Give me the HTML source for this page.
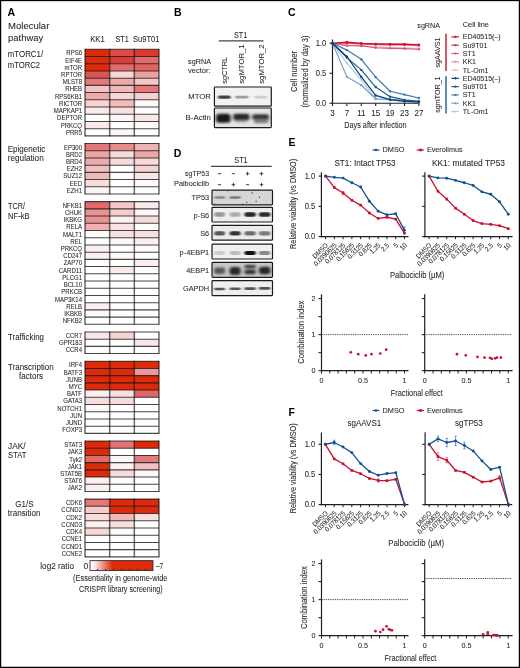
<!DOCTYPE html>
<html><head><meta charset="utf-8"><title>Figure</title>
<style>
html,body{margin:0;padding:0;background:#fff;}
body{width:520px;height:668px;overflow:hidden;}
svg{display:block;font-family:"Liberation Sans", sans-serif;}
text{stroke:#231f20;stroke-width:0.06px;}
text[font-weight=bold]{stroke:none;}
</style></head>
<body>
<svg width="520" height="668" viewBox="0 0 520 668" fill="#231f20">
<defs><filter id="b1" x="-50%" y="-100%" width="200%" height="300%"><feGaussianBlur stdDeviation="1.0 0.7"/></filter><filter id="b2" x="-50%" y="-100%" width="200%" height="300%"><feGaussianBlur stdDeviation="1.4 1.2"/></filter><filter id="b3" x="-20%" y="-20%" width="140%" height="140%"><feGaussianBlur stdDeviation="0.6"/></filter></defs>
<text x="7.60" y="15.70" font-size="10.5" font-weight="bold" fill="#000">A</text>
<text x="8.10" y="29.40" font-size="9.0" textLength="41.20" lengthAdjust="spacingAndGlyphs">Molecular</text>
<text x="8.10" y="41.20" font-size="9.0" textLength="35.00" lengthAdjust="spacingAndGlyphs">pathway</text>
<text x="90.20" y="41.80" font-size="8.9" textLength="14.60" lengthAdjust="spacingAndGlyphs">KK1</text>
<text x="115.40" y="41.80" font-size="8.9" textLength="13.40" lengthAdjust="spacingAndGlyphs">ST1</text>
<text x="133.00" y="41.80" font-size="8.9" textLength="26.40" lengthAdjust="spacingAndGlyphs">Su9T01</text>
<rect x="85.00" y="49.29" width="24.67" height="7.22" fill="#dc2a0a"/>
<rect x="109.67" y="49.29" width="24.66" height="7.22" fill="#de4a46"/>
<rect x="134.33" y="49.29" width="24.67" height="7.22" fill="#dc3830"/>
<text x="82.00" y="55.39" font-size="6.5" text-anchor="end" textLength="15.67" lengthAdjust="spacingAndGlyphs">RPS6</text>
<rect x="85.00" y="56.51" width="24.67" height="7.22" fill="#dc2a0a"/>
<rect x="109.67" y="56.51" width="24.66" height="7.22" fill="#dc3c34"/>
<rect x="134.33" y="56.51" width="24.67" height="7.22" fill="#e26a6a"/>
<text x="82.00" y="62.61" font-size="6.5" text-anchor="end" textLength="16.67" lengthAdjust="spacingAndGlyphs">EIF4E</text>
<rect x="85.00" y="63.72" width="24.67" height="7.22" fill="#dc2a0a"/>
<rect x="109.67" y="63.72" width="24.66" height="7.22" fill="#e26a6a"/>
<rect x="134.33" y="63.72" width="24.67" height="7.22" fill="#e06464"/>
<text x="82.00" y="69.82" font-size="6.5" text-anchor="end" textLength="17.56" lengthAdjust="spacingAndGlyphs">mTOR</text>
<rect x="85.00" y="70.94" width="24.67" height="7.22" fill="#de5454"/>
<rect x="109.67" y="70.94" width="24.66" height="7.22" fill="#f8d4d4"/>
<rect x="134.33" y="70.94" width="24.67" height="7.22" fill="#eca0a0"/>
<text x="82.00" y="77.04" font-size="6.5" text-anchor="end" textLength="20.89" lengthAdjust="spacingAndGlyphs">RPTOR</text>
<rect x="85.00" y="78.15" width="24.67" height="7.22" fill="#e47a7a"/>
<rect x="109.67" y="78.15" width="24.66" height="7.22" fill="#eeaaaa"/>
<rect x="134.33" y="78.15" width="24.67" height="7.22" fill="#f4c8c8"/>
<text x="82.00" y="84.25" font-size="6.5" text-anchor="end" textLength="19.34" lengthAdjust="spacingAndGlyphs">MLST8</text>
<rect x="85.00" y="85.37" width="24.67" height="7.22" fill="#f4c4c4"/>
<rect x="109.67" y="85.37" width="24.66" height="7.22" fill="#f0b8b8"/>
<rect x="134.33" y="85.37" width="24.67" height="7.22" fill="#e47878"/>
<text x="82.00" y="91.47" font-size="6.5" text-anchor="end" textLength="16.67" lengthAdjust="spacingAndGlyphs">RHEB</text>
<rect x="85.00" y="92.59" width="24.67" height="7.22" fill="#eeaaaa"/>
<rect x="109.67" y="92.59" width="24.66" height="7.22" fill="#f6d6d6"/>
<rect x="134.33" y="92.59" width="24.67" height="7.22" fill="#f5d0d0"/>
<text x="82.00" y="98.69" font-size="6.5" text-anchor="end" textLength="27.02" lengthAdjust="spacingAndGlyphs">RPS6KB1</text>
<rect x="85.00" y="99.80" width="24.67" height="7.22" fill="#f6d4d4"/>
<rect x="109.67" y="99.80" width="24.66" height="7.22" fill="#f0bcbc"/>
<rect x="134.33" y="99.80" width="24.67" height="7.22" fill="#fdf8f8"/>
<text x="82.00" y="105.90" font-size="6.5" text-anchor="end" textLength="22.89" lengthAdjust="spacingAndGlyphs">RICTOR</text>
<rect x="85.00" y="107.02" width="24.67" height="7.22" fill="#fbeaea"/>
<rect x="109.67" y="107.02" width="24.66" height="7.22" fill="#f8e0e0"/>
<text x="82.00" y="113.12" font-size="6.5" text-anchor="end" textLength="28.35" lengthAdjust="spacingAndGlyphs">MAPKAP1</text>
<rect x="109.67" y="114.23" width="24.66" height="7.22" fill="#fdf6f6"/>
<rect x="134.33" y="114.23" width="24.67" height="7.22" fill="#fae8e8"/>
<text x="82.00" y="120.33" font-size="6.5" text-anchor="end" textLength="24.89" lengthAdjust="spacingAndGlyphs">DEPTOR</text>
<rect x="85.00" y="121.45" width="24.67" height="7.22" fill="#fbeaea"/>
<rect x="134.33" y="121.45" width="24.67" height="7.22" fill="#fefafa"/>
<text x="82.00" y="127.55" font-size="6.5" text-anchor="end" textLength="21.34" lengthAdjust="spacingAndGlyphs">PRKCQ</text>
<rect x="109.67" y="128.67" width="24.66" height="7.22" fill="#fdf4f4"/>
<text x="82.00" y="134.77" font-size="6.5" text-anchor="end" textLength="16.01" lengthAdjust="spacingAndGlyphs">PRR5</text>
<rect x="85.00" y="143.50" width="24.67" height="7.22" fill="#e47878"/>
<rect x="109.67" y="143.50" width="24.66" height="7.22" fill="#e68c8c"/>
<rect x="134.33" y="143.50" width="24.67" height="7.22" fill="#f0b4b4"/>
<text x="82.00" y="149.60" font-size="6.5" text-anchor="end" textLength="18.02" lengthAdjust="spacingAndGlyphs">EP300</text>
<rect x="85.00" y="150.72" width="24.67" height="7.22" fill="#eca4a4"/>
<rect x="109.67" y="150.72" width="24.66" height="7.22" fill="#f8dcdc"/>
<rect x="134.33" y="150.72" width="24.67" height="7.22" fill="#eca8a8"/>
<text x="82.00" y="156.82" font-size="6.5" text-anchor="end" textLength="16.01" lengthAdjust="spacingAndGlyphs">BRD2</text>
<rect x="85.00" y="157.94" width="24.67" height="7.22" fill="#eeacac"/>
<rect x="109.67" y="157.94" width="24.66" height="7.22" fill="#f8dcdc"/>
<rect x="134.33" y="157.94" width="24.67" height="7.22" fill="#f8dada"/>
<text x="82.00" y="164.04" font-size="6.5" text-anchor="end" textLength="16.01" lengthAdjust="spacingAndGlyphs">BRD4</text>
<rect x="85.00" y="165.15" width="24.67" height="7.22" fill="#f2c0c0"/>
<rect x="134.33" y="165.15" width="24.67" height="7.22" fill="#f6d4d4"/>
<text x="82.00" y="171.25" font-size="6.5" text-anchor="end" textLength="15.34" lengthAdjust="spacingAndGlyphs">EZH2</text>
<rect x="85.00" y="172.37" width="24.67" height="7.22" fill="#f0baba"/>
<rect x="109.67" y="172.37" width="24.66" height="7.22" fill="#fefcfc"/>
<rect x="134.33" y="172.37" width="24.67" height="7.22" fill="#fae6e6"/>
<text x="82.00" y="178.47" font-size="6.5" text-anchor="end" textLength="18.67" lengthAdjust="spacingAndGlyphs">SUZ12</text>
<rect x="85.00" y="179.59" width="24.67" height="7.22" fill="#f8dcdc"/>
<rect x="134.33" y="179.59" width="24.67" height="7.22" fill="#fefafa"/>
<text x="82.00" y="185.69" font-size="6.5" text-anchor="end" textLength="12.34" lengthAdjust="spacingAndGlyphs">EED</text>
<rect x="85.00" y="186.80" width="24.67" height="7.22" fill="#fdf6f6"/>
<text x="82.00" y="192.90" font-size="6.5" text-anchor="end" textLength="15.34" lengthAdjust="spacingAndGlyphs">EZH1</text>
<rect x="85.00" y="201.64" width="24.67" height="7.22" fill="#e26a6a"/>
<rect x="109.67" y="201.64" width="24.66" height="7.22" fill="#f4c8c8"/>
<rect x="134.33" y="201.64" width="24.67" height="7.22" fill="#fbeaea"/>
<text x="82.00" y="207.74" font-size="6.5" text-anchor="end" textLength="19.34" lengthAdjust="spacingAndGlyphs">NFKB1</text>
<rect x="85.00" y="208.86" width="24.67" height="7.22" fill="#e89494"/>
<rect x="109.67" y="208.86" width="24.66" height="7.22" fill="#f4cccc"/>
<rect x="134.33" y="208.86" width="24.67" height="7.22" fill="#fdf6f6"/>
<text x="82.00" y="214.96" font-size="6.5" text-anchor="end" textLength="17.00" lengthAdjust="spacingAndGlyphs">CHUK</text>
<rect x="85.00" y="216.07" width="24.67" height="7.22" fill="#e89494"/>
<rect x="109.67" y="216.07" width="24.66" height="7.22" fill="#fcf0f0"/>
<rect x="134.33" y="216.07" width="24.67" height="7.22" fill="#f8dcdc"/>
<text x="82.00" y="222.17" font-size="6.5" text-anchor="end" textLength="18.34" lengthAdjust="spacingAndGlyphs">IKBKG</text>
<rect x="85.00" y="223.29" width="24.67" height="7.22" fill="#eeb0b0"/>
<rect x="109.67" y="223.29" width="24.66" height="7.22" fill="#fae4e4"/>
<text x="82.00" y="229.39" font-size="6.5" text-anchor="end" textLength="15.67" lengthAdjust="spacingAndGlyphs">RELA</text>
<rect x="85.00" y="230.50" width="24.67" height="7.22" fill="#fffcfc"/>
<rect x="109.67" y="230.50" width="24.66" height="7.22" fill="#f8e0e0"/>
<rect x="134.33" y="230.50" width="24.67" height="7.22" fill="#f8e0e0"/>
<text x="82.00" y="236.60" font-size="6.5" text-anchor="end" textLength="18.89" lengthAdjust="spacingAndGlyphs">MALT1</text>
<rect x="109.67" y="237.72" width="24.66" height="7.22" fill="#fdf8f8"/>
<rect x="134.33" y="237.72" width="24.67" height="7.22" fill="#fbf0f0"/>
<text x="82.00" y="243.82" font-size="6.5" text-anchor="end" textLength="11.67" lengthAdjust="spacingAndGlyphs">REL</text>
<rect x="85.00" y="244.94" width="24.67" height="7.22" fill="#fcf0f0"/>
<rect x="134.33" y="244.94" width="24.67" height="7.22" fill="#fefafa"/>
<text x="82.00" y="251.04" font-size="6.5" text-anchor="end" textLength="21.34" lengthAdjust="spacingAndGlyphs">PRKCQ</text>
<rect x="85.00" y="252.15" width="24.67" height="7.22" fill="#fcf0f0"/>
<rect x="109.67" y="252.15" width="24.66" height="7.22" fill="#fefafa"/>
<text x="82.00" y="258.25" font-size="6.5" text-anchor="end" textLength="18.68" lengthAdjust="spacingAndGlyphs">CD247</text>
<rect x="134.33" y="259.37" width="24.67" height="7.22" fill="#fbeeee"/>
<text x="82.00" y="265.47" font-size="6.5" text-anchor="end" textLength="18.34" lengthAdjust="spacingAndGlyphs">ZAP70</text>
<rect x="109.67" y="266.58" width="24.66" height="7.22" fill="#fbeaea"/>
<text x="82.00" y="272.68" font-size="6.5" text-anchor="end" textLength="23.23" lengthAdjust="spacingAndGlyphs">CARD11</text>
<text x="82.00" y="279.90" font-size="6.5" text-anchor="end" textLength="19.68" lengthAdjust="spacingAndGlyphs">PLCG1</text>
<text x="82.00" y="287.12" font-size="6.5" text-anchor="end" textLength="18.35" lengthAdjust="spacingAndGlyphs">BCL10</text>
<rect x="109.67" y="288.23" width="24.66" height="7.22" fill="#fefafa"/>
<text x="82.00" y="294.33" font-size="6.5" text-anchor="end" textLength="20.67" lengthAdjust="spacingAndGlyphs">PRKCB</text>
<text x="82.00" y="301.55" font-size="6.5" text-anchor="end" textLength="27.02" lengthAdjust="spacingAndGlyphs">MAP3K14</text>
<rect x="85.00" y="302.66" width="24.67" height="7.22" fill="#fcf0f0"/>
<text x="82.00" y="308.76" font-size="6.5" text-anchor="end" textLength="15.67" lengthAdjust="spacingAndGlyphs">RELB</text>
<rect x="85.00" y="309.88" width="24.67" height="7.22" fill="#fffafa"/>
<text x="82.00" y="315.98" font-size="6.5" text-anchor="end" textLength="17.68" lengthAdjust="spacingAndGlyphs">IKBKB</text>
<text x="82.00" y="323.20" font-size="6.5" text-anchor="end" textLength="19.34" lengthAdjust="spacingAndGlyphs">NFKB2</text>
<rect x="85.00" y="331.94" width="24.67" height="7.22" fill="#fae6e6"/>
<rect x="109.67" y="331.94" width="24.66" height="7.22" fill="#f6d4d4"/>
<text x="82.00" y="338.04" font-size="6.5" text-anchor="end" textLength="16.34" lengthAdjust="spacingAndGlyphs">CCR7</text>
<rect x="134.33" y="339.15" width="24.67" height="7.22" fill="#fae6e6"/>
<text x="82.00" y="345.25" font-size="6.5" text-anchor="end" textLength="23.01" lengthAdjust="spacingAndGlyphs">GPR183</text>
<text x="82.00" y="352.47" font-size="6.5" text-anchor="end" textLength="16.34" lengthAdjust="spacingAndGlyphs">CCR4</text>
<rect x="85.00" y="361.21" width="24.67" height="7.22" fill="#dc2a0a"/>
<rect x="109.67" y="361.21" width="24.66" height="7.22" fill="#dc2a0a"/>
<rect x="134.33" y="361.21" width="24.67" height="7.22" fill="#dc2a0a"/>
<text x="82.00" y="367.31" font-size="6.5" text-anchor="end" textLength="13.00" lengthAdjust="spacingAndGlyphs">IRF4</text>
<rect x="85.00" y="368.42" width="24.67" height="7.22" fill="#dc2a0a"/>
<rect x="109.67" y="368.42" width="24.66" height="7.22" fill="#dc2a0a"/>
<rect x="134.33" y="368.42" width="24.67" height="7.22" fill="#e89898"/>
<text x="82.00" y="374.52" font-size="6.5" text-anchor="end" textLength="18.23" lengthAdjust="spacingAndGlyphs">BATF3</text>
<rect x="85.00" y="375.64" width="24.67" height="7.22" fill="#dc2a0a"/>
<rect x="109.67" y="375.64" width="24.66" height="7.22" fill="#dc2a0a"/>
<rect x="134.33" y="375.64" width="24.67" height="7.22" fill="#dc2a0a"/>
<text x="82.00" y="381.74" font-size="6.5" text-anchor="end" textLength="15.67" lengthAdjust="spacingAndGlyphs">JUNB</text>
<rect x="85.00" y="382.85" width="24.67" height="7.22" fill="#dc2a0a"/>
<rect x="109.67" y="382.85" width="24.66" height="7.22" fill="#dc2a0a"/>
<rect x="134.33" y="382.85" width="24.67" height="7.22" fill="#dc2a0a"/>
<text x="82.00" y="388.95" font-size="6.5" text-anchor="end" textLength="13.33" lengthAdjust="spacingAndGlyphs">MYC</text>
<rect x="85.00" y="390.07" width="24.67" height="7.22" fill="#fdf0f0"/>
<rect x="109.67" y="390.07" width="24.66" height="7.22" fill="#f8dede"/>
<rect x="134.33" y="390.07" width="24.67" height="7.22" fill="#e06666"/>
<text x="82.00" y="396.17" font-size="6.5" text-anchor="end" textLength="14.89" lengthAdjust="spacingAndGlyphs">BATF</text>
<rect x="85.00" y="397.29" width="24.67" height="7.22" fill="#f6dcdc"/>
<rect x="109.67" y="397.29" width="24.66" height="7.22" fill="#f6dcdc"/>
<text x="82.00" y="403.39" font-size="6.5" text-anchor="end" textLength="18.78" lengthAdjust="spacingAndGlyphs">GATA3</text>
<rect x="85.00" y="404.50" width="24.67" height="7.22" fill="#fdf8f8"/>
<text x="82.00" y="410.60" font-size="6.5" text-anchor="end" textLength="24.67" lengthAdjust="spacingAndGlyphs">NOTCH1</text>
<text x="82.00" y="417.82" font-size="6.5" text-anchor="end" textLength="11.67" lengthAdjust="spacingAndGlyphs">JUN</text>
<text x="82.00" y="425.03" font-size="6.5" text-anchor="end" textLength="16.00" lengthAdjust="spacingAndGlyphs">JUND</text>
<text x="82.00" y="432.25" font-size="6.5" text-anchor="end" textLength="19.67" lengthAdjust="spacingAndGlyphs">FOXP3</text>
<rect x="85.00" y="440.99" width="24.67" height="7.22" fill="#dc2a0a"/>
<rect x="109.67" y="440.99" width="24.66" height="7.22" fill="#e47272"/>
<rect x="134.33" y="440.99" width="24.67" height="7.22" fill="#dc2a0a"/>
<text x="82.00" y="447.09" font-size="6.5" text-anchor="end" textLength="17.78" lengthAdjust="spacingAndGlyphs">STAT3</text>
<rect x="85.00" y="448.21" width="24.67" height="7.22" fill="#dc2a0a"/>
<text x="82.00" y="454.31" font-size="6.5" text-anchor="end" textLength="14.34" lengthAdjust="spacingAndGlyphs">JAK3</text>
<rect x="85.00" y="455.42" width="24.67" height="7.22" fill="#e26a6a"/>
<rect x="109.67" y="455.42" width="24.66" height="7.22" fill="#fdf6f6"/>
<rect x="134.33" y="455.42" width="24.67" height="7.22" fill="#e47a7a"/>
<text x="82.00" y="461.52" font-size="6.5" text-anchor="end" textLength="12.67" lengthAdjust="spacingAndGlyphs">Tyk2</text>
<rect x="85.00" y="462.64" width="24.67" height="7.22" fill="#dc2a0a"/>
<rect x="109.67" y="462.64" width="24.66" height="7.22" fill="#fcf0f0"/>
<rect x="134.33" y="462.64" width="24.67" height="7.22" fill="#f2c0c0"/>
<text x="82.00" y="468.74" font-size="6.5" text-anchor="end" textLength="14.34" lengthAdjust="spacingAndGlyphs">JAK1</text>
<rect x="85.00" y="469.85" width="24.67" height="7.22" fill="#dc2a0a"/>
<rect x="109.67" y="469.85" width="24.66" height="7.22" fill="#f8dcdc"/>
<rect x="134.33" y="469.85" width="24.67" height="7.22" fill="#fdf6f6"/>
<text x="82.00" y="475.95" font-size="6.5" text-anchor="end" textLength="21.78" lengthAdjust="spacingAndGlyphs">STAT5B</text>
<rect x="85.00" y="477.07" width="24.67" height="7.22" fill="#fcf0f0"/>
<rect x="109.67" y="477.07" width="24.66" height="7.22" fill="#fefafa"/>
<text x="82.00" y="483.17" font-size="6.5" text-anchor="end" textLength="17.78" lengthAdjust="spacingAndGlyphs">STAT6</text>
<rect x="85.00" y="484.29" width="24.67" height="7.22" fill="#fcf0f0"/>
<text x="82.00" y="490.39" font-size="6.5" text-anchor="end" textLength="14.34" lengthAdjust="spacingAndGlyphs">JAK2</text>
<rect x="85.00" y="499.12" width="24.67" height="7.22" fill="#e47878"/>
<rect x="109.67" y="499.12" width="24.66" height="7.22" fill="#dc2a0a"/>
<rect x="134.33" y="499.12" width="24.67" height="7.22" fill="#dc2a0a"/>
<text x="82.00" y="505.22" font-size="6.5" text-anchor="end" textLength="16.01" lengthAdjust="spacingAndGlyphs">CDK6</text>
<rect x="85.00" y="506.34" width="24.67" height="7.22" fill="#f4cccc"/>
<rect x="109.67" y="506.34" width="24.66" height="7.22" fill="#dc2a0a"/>
<rect x="134.33" y="506.34" width="24.67" height="7.22" fill="#dc2a0a"/>
<text x="82.00" y="512.44" font-size="6.5" text-anchor="end" textLength="20.67" lengthAdjust="spacingAndGlyphs">CCND2</text>
<rect x="85.00" y="513.56" width="24.67" height="7.22" fill="#f8dcdc"/>
<rect x="109.67" y="513.56" width="24.66" height="7.22" fill="#f0b8b8"/>
<rect x="134.33" y="513.56" width="24.67" height="7.22" fill="#f8e0e0"/>
<text x="82.00" y="519.66" font-size="6.5" text-anchor="end" textLength="16.01" lengthAdjust="spacingAndGlyphs">CDK2</text>
<rect x="85.00" y="520.77" width="24.67" height="7.22" fill="#fcf0f0"/>
<rect x="109.67" y="520.77" width="24.66" height="7.22" fill="#f8e0e0"/>
<text x="82.00" y="526.87" font-size="6.5" text-anchor="end" textLength="20.67" lengthAdjust="spacingAndGlyphs">CCND3</text>
<rect x="85.00" y="527.99" width="24.67" height="7.22" fill="#f6d6d6"/>
<rect x="109.67" y="527.99" width="24.66" height="7.22" fill="#fefafa"/>
<text x="82.00" y="534.09" font-size="6.5" text-anchor="end" textLength="16.01" lengthAdjust="spacingAndGlyphs">CDK4</text>
<text x="82.00" y="541.30" font-size="6.5" text-anchor="end" textLength="20.34" lengthAdjust="spacingAndGlyphs">CCNE1</text>
<text x="82.00" y="548.52" font-size="6.5" text-anchor="end" textLength="20.67" lengthAdjust="spacingAndGlyphs">CCND1</text>
<text x="82.00" y="555.74" font-size="6.5" text-anchor="end" textLength="20.34" lengthAdjust="spacingAndGlyphs">CCNE2</text>
<path d="M85.00 49.29H159.00 M85.00 56.51H159.00 M85.00 63.72H159.00 M85.00 70.94H159.00 M85.00 78.15H159.00 M85.00 85.37H159.00 M85.00 92.59H159.00 M85.00 99.80H159.00 M85.00 107.02H159.00 M85.00 114.23H159.00 M85.00 121.45H159.00 M85.00 128.67H159.00 M85.00 135.88H159.00 M85.00 143.50H159.00 M85.00 150.72H159.00 M85.00 157.94H159.00 M85.00 165.15H159.00 M85.00 172.37H159.00 M85.00 179.58H159.00 M85.00 186.80H159.00 M85.00 194.02H159.00 M85.00 201.64H159.00 M85.00 208.86H159.00 M85.00 216.07H159.00 M85.00 223.29H159.00 M85.00 230.50H159.00 M85.00 237.72H159.00 M85.00 244.94H159.00 M85.00 252.15H159.00 M85.00 259.37H159.00 M85.00 266.58H159.00 M85.00 273.80H159.00 M85.00 281.02H159.00 M85.00 288.23H159.00 M85.00 295.45H159.00 M85.00 302.66H159.00 M85.00 309.88H159.00 M85.00 317.10H159.00 M85.00 324.31H159.00 M85.00 331.94H159.00 M85.00 339.15H159.00 M85.00 346.37H159.00 M85.00 353.58H159.00 M85.00 361.21H159.00 M85.00 368.42H159.00 M85.00 375.64H159.00 M85.00 382.85H159.00 M85.00 390.07H159.00 M85.00 397.29H159.00 M85.00 404.50H159.00 M85.00 411.72H159.00 M85.00 418.93H159.00 M85.00 426.15H159.00 M85.00 433.37H159.00 M85.00 440.99H159.00 M85.00 448.21H159.00 M85.00 455.42H159.00 M85.00 462.64H159.00 M85.00 469.85H159.00 M85.00 477.07H159.00 M85.00 484.29H159.00 M85.00 491.50H159.00 M85.00 499.12H159.00 M85.00 506.34H159.00 M85.00 513.56H159.00 M85.00 520.77H159.00 M85.00 527.99H159.00 M85.00 535.20H159.00 M85.00 542.42H159.00 M85.00 549.64H159.00 M85.00 556.85H159.00" stroke="#4a4a4a" stroke-width="1.05" fill="none" style="mix-blend-mode:multiply"/>
<path d="M85.00 48.79V136.38 M109.67 48.79V136.38 M134.33 48.79V136.38 M159.00 48.79V136.38 M85.00 143.00V194.52 M109.67 143.00V194.52 M134.33 143.00V194.52 M159.00 143.00V194.52 M85.00 201.14V324.81 M109.67 201.14V324.81 M134.33 201.14V324.81 M159.00 201.14V324.81 M85.00 331.44V354.08 M109.67 331.44V354.08 M134.33 331.44V354.08 M159.00 331.44V354.08 M85.00 360.71V433.87 M109.67 360.71V433.87 M134.33 360.71V433.87 M159.00 360.71V433.87 M85.00 440.49V492.00 M109.67 440.49V492.00 M134.33 440.49V492.00 M159.00 440.49V492.00 M85.00 498.62V557.35 M109.67 498.62V557.35 M134.33 498.62V557.35 M159.00 498.62V557.35" stroke="#6a6a6a" stroke-width="1.5" fill="none" style="mix-blend-mode:multiply"/>
<text x="7.75" y="56.90" font-size="8.3" textLength="35.40" lengthAdjust="spacingAndGlyphs">mTORC1/</text>
<text x="7.75" y="68.10" font-size="8.3" textLength="32.30" lengthAdjust="spacingAndGlyphs">mTORC2</text>
<text x="7.75" y="151.60" font-size="8.3" textLength="37.50" lengthAdjust="spacingAndGlyphs">Epigenetic</text>
<text x="7.75" y="160.60" font-size="8.3" textLength="36.00" lengthAdjust="spacingAndGlyphs">regulation</text>
<text x="8.10" y="209.10" font-size="8.3" textLength="16.90" lengthAdjust="spacingAndGlyphs">TCR/</text>
<text x="8.10" y="218.75" font-size="8.3" textLength="21.50" lengthAdjust="spacingAndGlyphs">NF-kB</text>
<text x="8.10" y="339.75" font-size="8.3" textLength="35.90" lengthAdjust="spacingAndGlyphs">Trafficking</text>
<text x="8.10" y="369.50" font-size="8.3" textLength="45.60" lengthAdjust="spacingAndGlyphs">Transcription</text>
<text x="19.00" y="378.50" font-size="8.3" textLength="24.10" lengthAdjust="spacingAndGlyphs">factors</text>
<text x="8.10" y="448.50" font-size="8.3" textLength="17.50" lengthAdjust="spacingAndGlyphs">JAK/</text>
<text x="8.10" y="458.10" font-size="8.3" textLength="18.40" lengthAdjust="spacingAndGlyphs">STAT</text>
<text x="15.25" y="506.60" font-size="8.3" textLength="18.25" lengthAdjust="spacingAndGlyphs">G1/S</text>
<text x="7.75" y="516.00" font-size="8.3" textLength="32.85" lengthAdjust="spacingAndGlyphs">transition</text>
<defs><linearGradient id="cb" x1="0" x2="1" y1="0" y2="0"><stop offset="0" stop-color="#ffffff"/><stop offset="0.08" stop-color="#fbe6e4"/><stop offset="0.36" stop-color="#dc2a0a"/><stop offset="1" stop-color="#dc2a0a"/></linearGradient></defs>
<rect x="90.00" y="560.60" width="63.00" height="10.00" fill="url(#cb)" stroke="#333" stroke-width="0.9"/>
<path d="M97.60 570.6V569.0M105.60 570.6V569.0M113.70 570.6V569.0M121.60 570.6V569.0M129.50 570.6V569.0M137.50 570.6V569.0M145.30 570.6V569.0" stroke="#4a1008" stroke-width="0.9" fill="none"/>
<text x="40.25" y="569.00" font-size="8.5" textLength="33.70" lengthAdjust="spacingAndGlyphs">log2 ratio</text>
<text x="83.60" y="569.10" font-size="8.6">0</text>
<text x="156.00" y="568.90" font-size="8.8" textLength="7.20" lengthAdjust="spacingAndGlyphs">–7</text>
<text x="73.10" y="581.30" font-size="9.2" textLength="94.40" lengthAdjust="spacingAndGlyphs">(Essentiality in genome-wide</text>
<text x="79.10" y="591.90" font-size="9.2" textLength="83.60" lengthAdjust="spacingAndGlyphs">CRISPR library screening)</text>
<text x="174.00" y="15.90" font-size="10.5" font-weight="bold" fill="#000">B</text>
<text x="234.00" y="37.90" font-size="8.4" textLength="13.20" lengthAdjust="spacingAndGlyphs">ST1</text>
<line x1="218.75" y1="40.90" x2="263.50" y2="40.90" stroke="#444" stroke-width="1.3"/>
<text x="227.30" y="83.75" font-size="7.9" textLength="26.90" lengthAdjust="spacingAndGlyphs" transform="rotate(-90 227.30 83.75)">sgCTRL</text>
<text x="244.20" y="83.75" font-size="7.9" textLength="39.40" lengthAdjust="spacingAndGlyphs" transform="rotate(-90 244.20 83.75)">sgMTOR_1</text>
<text x="263.50" y="83.75" font-size="7.9" textLength="39.40" lengthAdjust="spacingAndGlyphs" transform="rotate(-90 263.50 83.75)">sgMTOR_2</text>
<text x="188.10" y="63.50" font-size="7.6" textLength="22.90" lengthAdjust="spacingAndGlyphs">sgRNA</text>
<text x="188.10" y="72.50" font-size="7.6" textLength="22.50" lengthAdjust="spacingAndGlyphs">vector:</text>
<text x="210.80" y="98.60" font-size="8.1" text-anchor="end" textLength="22.50" lengthAdjust="spacingAndGlyphs">MTOR</text>
<text x="211.00" y="119.85" font-size="8.1" text-anchor="end" textLength="25.40" lengthAdjust="spacingAndGlyphs">B-Actin</text>
<rect x="214.40" y="87.00" width="56.90" height="19.20" rx="0.8" fill="#f2f2f2" stroke="#1a1a1a" stroke-width="1.2"/>
<rect x="218.00" y="95.60" width="12.60" height="3.20" rx="1.60" fill="#333" fill-opacity="0.92" filter="url(#b1)"/>
<rect x="235.20" y="95.70" width="13.40" height="2.80" rx="1.40" fill="#888" fill-opacity="0.8" filter="url(#b1)"/>
<rect x="254.20" y="95.80" width="12.80" height="2.60" rx="1.30" fill="#b4b4b4" fill-opacity="0.6" filter="url(#b1)"/>
<rect x="214.40" y="108.00" width="56.90" height="19.60" rx="0.8" fill="#e4e4e4" stroke="#1a1a1a" stroke-width="1.2"/>
<rect x="216.00" y="113.80" width="14.60" height="9.00" rx="3.00" fill="#111" fill-opacity="0.95" filter="url(#b2)"/>
<rect x="233.20" y="113.75" width="16.40" height="6.50" rx="2.50" fill="#161616" fill-opacity="0.92" filter="url(#b2)"/>
<rect x="235.00" y="119.30" width="12.00" height="3.00" rx="1.50" fill="#555" fill-opacity="0.5" filter="url(#b2)"/>
<rect x="252.20" y="114.25" width="16.80" height="5.50" rx="2.00" fill="#222" fill-opacity="0.9" filter="url(#b2)"/>
<rect x="254.00" y="118.75" width="14.60" height="4.50" rx="2.00" fill="#555" fill-opacity="0.7" filter="url(#b2)"/>
<text x="288.10" y="15.90" font-size="10.5" font-weight="bold" fill="#000">C</text>
<line x1="332.50" y1="39.50" x2="332.50" y2="103.85" stroke="#231f20" stroke-width="1.2"/>
<line x1="331.90" y1="103.25" x2="419.20" y2="103.25" stroke="#231f20" stroke-width="1.2"/>
<line x1="329.50" y1="43.25" x2="332.50" y2="43.25" stroke="#231f20" stroke-width="1.1"/>
<text x="326.30" y="45.85" font-size="8.2" text-anchor="end" textLength="10.57" lengthAdjust="spacingAndGlyphs">1.0</text>
<line x1="329.50" y1="73.25" x2="332.50" y2="73.25" stroke="#231f20" stroke-width="1.1"/>
<text x="326.30" y="75.85" font-size="8.2" text-anchor="end" textLength="10.57" lengthAdjust="spacingAndGlyphs">0.5</text>
<line x1="329.50" y1="103.25" x2="332.50" y2="103.25" stroke="#231f20" stroke-width="1.1"/>
<text x="326.30" y="105.85" font-size="8.2" text-anchor="end" textLength="10.57" lengthAdjust="spacingAndGlyphs">0.0</text>
<line x1="332.50" y1="103.25" x2="332.50" y2="106.05" stroke="#231f20" stroke-width="1.1"/>
<text x="332.50" y="115.90" font-size="8.6" text-anchor="middle" textLength="4.45" lengthAdjust="spacingAndGlyphs">3</text>
<line x1="346.90" y1="103.25" x2="346.90" y2="106.05" stroke="#231f20" stroke-width="1.1"/>
<text x="346.90" y="115.90" font-size="8.6" text-anchor="middle" textLength="4.45" lengthAdjust="spacingAndGlyphs">7</text>
<line x1="361.30" y1="103.25" x2="361.30" y2="106.05" stroke="#231f20" stroke-width="1.1"/>
<text x="361.30" y="115.90" font-size="8.6" text-anchor="middle" textLength="8.30" lengthAdjust="spacingAndGlyphs">11</text>
<line x1="375.70" y1="103.25" x2="375.70" y2="106.05" stroke="#231f20" stroke-width="1.1"/>
<text x="375.70" y="115.90" font-size="8.6" text-anchor="middle" textLength="8.90" lengthAdjust="spacingAndGlyphs">15</text>
<line x1="390.10" y1="103.25" x2="390.10" y2="106.05" stroke="#231f20" stroke-width="1.1"/>
<text x="390.10" y="115.90" font-size="8.6" text-anchor="middle" textLength="8.90" lengthAdjust="spacingAndGlyphs">19</text>
<line x1="404.50" y1="103.25" x2="404.50" y2="106.05" stroke="#231f20" stroke-width="1.1"/>
<text x="404.50" y="115.90" font-size="8.6" text-anchor="middle" textLength="8.90" lengthAdjust="spacingAndGlyphs">23</text>
<line x1="418.90" y1="103.25" x2="418.90" y2="106.05" stroke="#231f20" stroke-width="1.1"/>
<text x="418.90" y="115.90" font-size="8.6" text-anchor="middle" textLength="8.90" lengthAdjust="spacingAndGlyphs">27</text>
<text x="344.20" y="127.80" font-size="9.2" textLength="62.50" lengthAdjust="spacingAndGlyphs">Days after infection</text>
<text x="297.30" y="71.50" font-size="9.0" text-anchor="middle" textLength="40.90" lengthAdjust="spacingAndGlyphs" transform="rotate(-90 297.30 71.50)">Cell number</text>
<text x="308.10" y="71.50" font-size="9.0" text-anchor="middle" textLength="72.00" lengthAdjust="spacingAndGlyphs" transform="rotate(-90 308.10 71.50)">(normalized by day 3)</text>
<polyline points="332.50,43.25 346.90,45.05 361.30,45.65 375.70,46.85 390.10,47.45 404.50,47.75 418.90,48.35" fill="none" stroke="#f2bcc6" stroke-width="1.2" stroke-linejoin="round"/>
<circle cx="332.50" cy="43.25" r="1.2" fill="#f2bcc6"/>
<circle cx="346.90" cy="45.05" r="1.2" fill="#f2bcc6"/>
<circle cx="361.30" cy="45.65" r="1.2" fill="#f2bcc6"/>
<circle cx="375.70" cy="46.85" r="1.2" fill="#f2bcc6"/>
<circle cx="390.10" cy="47.45" r="1.2" fill="#f2bcc6"/>
<circle cx="404.50" cy="47.75" r="1.2" fill="#f2bcc6"/>
<circle cx="418.90" cy="48.35" r="1.2" fill="#f2bcc6"/>
<polyline points="332.50,43.25 346.90,43.25 361.30,44.15 375.70,44.75 390.10,45.05 404.50,45.05 418.90,45.65" fill="none" stroke="#e58a9c" stroke-width="1.2" stroke-linejoin="round"/>
<circle cx="332.50" cy="43.25" r="1.2" fill="#e58a9c"/>
<circle cx="346.90" cy="43.25" r="1.2" fill="#e58a9c"/>
<circle cx="361.30" cy="44.15" r="1.2" fill="#e58a9c"/>
<circle cx="375.70" cy="44.75" r="1.2" fill="#e58a9c"/>
<circle cx="390.10" cy="45.05" r="1.2" fill="#e58a9c"/>
<circle cx="404.50" cy="45.05" r="1.2" fill="#e58a9c"/>
<circle cx="418.90" cy="45.65" r="1.2" fill="#e58a9c"/>
<polyline points="332.50,43.25 346.90,45.65 361.30,45.95 375.70,47.75 390.10,48.35 404.50,48.65 418.90,49.25" fill="none" stroke="#db5670" stroke-width="1.2" stroke-linejoin="round"/>
<circle cx="332.50" cy="43.25" r="1.2" fill="#db5670"/>
<circle cx="346.90" cy="45.65" r="1.2" fill="#db5670"/>
<circle cx="361.30" cy="45.95" r="1.2" fill="#db5670"/>
<circle cx="375.70" cy="47.75" r="1.2" fill="#db5670"/>
<circle cx="390.10" cy="48.35" r="1.2" fill="#db5670"/>
<circle cx="404.50" cy="48.65" r="1.2" fill="#db5670"/>
<circle cx="418.90" cy="49.25" r="1.2" fill="#db5670"/>
<polyline points="332.50,43.25 346.90,42.65 361.30,43.55 375.70,44.15 390.10,44.45 404.50,44.45 418.90,45.05" fill="none" stroke="#d22f4d" stroke-width="1.2" stroke-linejoin="round"/>
<circle cx="332.50" cy="43.25" r="1.2" fill="#d22f4d"/>
<circle cx="346.90" cy="42.65" r="1.2" fill="#d22f4d"/>
<circle cx="361.30" cy="43.55" r="1.2" fill="#d22f4d"/>
<circle cx="375.70" cy="44.15" r="1.2" fill="#d22f4d"/>
<circle cx="390.10" cy="44.45" r="1.2" fill="#d22f4d"/>
<circle cx="404.50" cy="44.45" r="1.2" fill="#d22f4d"/>
<circle cx="418.90" cy="45.05" r="1.2" fill="#d22f4d"/>
<polyline points="332.50,43.25 346.90,42.05 361.30,43.25 375.70,43.85 390.10,44.15 404.50,44.15 418.90,44.75" fill="none" stroke="#c8102e" stroke-width="1.2" stroke-linejoin="round"/>
<circle cx="332.50" cy="43.25" r="1.2" fill="#c8102e"/>
<circle cx="346.90" cy="42.05" r="1.2" fill="#c8102e"/>
<circle cx="361.30" cy="43.25" r="1.2" fill="#c8102e"/>
<circle cx="375.70" cy="43.85" r="1.2" fill="#c8102e"/>
<circle cx="390.10" cy="44.15" r="1.2" fill="#c8102e"/>
<circle cx="404.50" cy="44.15" r="1.2" fill="#c8102e"/>
<circle cx="418.90" cy="44.75" r="1.2" fill="#c8102e"/>
<polyline points="332.50,43.25 346.90,63.05 361.30,79.85 375.70,99.05 390.10,100.25 404.50,100.85 418.90,102.05" fill="none" stroke="#b3cce3" stroke-width="1.2" stroke-linejoin="round"/>
<circle cx="332.50" cy="43.25" r="1.2" fill="#b3cce3"/>
<circle cx="346.90" cy="63.05" r="1.2" fill="#b3cce3"/>
<circle cx="361.30" cy="79.85" r="1.2" fill="#b3cce3"/>
<circle cx="375.70" cy="99.05" r="1.2" fill="#b3cce3"/>
<circle cx="390.10" cy="100.25" r="1.2" fill="#b3cce3"/>
<circle cx="404.50" cy="100.85" r="1.2" fill="#b3cce3"/>
<circle cx="418.90" cy="102.05" r="1.2" fill="#b3cce3"/>
<polyline points="332.50,43.25 346.90,76.85 361.30,85.25 375.70,98.75 390.10,99.35 404.50,100.25 418.90,101.45" fill="none" stroke="#79a2c9" stroke-width="1.2" stroke-linejoin="round"/>
<circle cx="332.50" cy="43.25" r="1.2" fill="#79a2c9"/>
<circle cx="346.90" cy="76.85" r="1.2" fill="#79a2c9"/>
<circle cx="361.30" cy="85.25" r="1.2" fill="#79a2c9"/>
<circle cx="375.70" cy="98.75" r="1.2" fill="#79a2c9"/>
<circle cx="390.10" cy="99.35" r="1.2" fill="#79a2c9"/>
<circle cx="404.50" cy="100.25" r="1.2" fill="#79a2c9"/>
<circle cx="418.90" cy="101.45" r="1.2" fill="#79a2c9"/>
<polyline points="332.50,43.25 346.90,50.09 361.30,59.27 375.70,77.15 390.10,91.25 404.50,94.61 418.90,98.00" fill="none" stroke="#3d78ab" stroke-width="1.2" stroke-linejoin="round"/>
<circle cx="332.50" cy="43.25" r="1.2" fill="#3d78ab"/>
<circle cx="346.90" cy="50.09" r="1.2" fill="#3d78ab"/>
<circle cx="361.30" cy="59.27" r="1.2" fill="#3d78ab"/>
<circle cx="375.70" cy="77.15" r="1.2" fill="#3d78ab"/>
<circle cx="390.10" cy="91.25" r="1.2" fill="#3d78ab"/>
<circle cx="404.50" cy="94.61" r="1.2" fill="#3d78ab"/>
<circle cx="418.90" cy="98.00" r="1.2" fill="#3d78ab"/>
<polyline points="332.50,43.25 346.90,57.65 361.30,69.89 375.70,87.05 390.10,96.65 404.50,99.89 418.90,101.45" fill="none" stroke="#1d5a93" stroke-width="1.2" stroke-linejoin="round"/>
<circle cx="332.50" cy="43.25" r="1.2" fill="#1d5a93"/>
<circle cx="346.90" cy="57.65" r="1.2" fill="#1d5a93"/>
<circle cx="361.30" cy="69.89" r="1.2" fill="#1d5a93"/>
<circle cx="375.70" cy="87.05" r="1.2" fill="#1d5a93"/>
<circle cx="390.10" cy="96.65" r="1.2" fill="#1d5a93"/>
<circle cx="404.50" cy="99.89" r="1.2" fill="#1d5a93"/>
<circle cx="418.90" cy="101.45" r="1.2" fill="#1d5a93"/>
<polyline points="332.50,43.25 346.90,56.75 361.30,76.85 375.70,95.45 390.10,99.65 404.50,101.45 418.90,102.05" fill="none" stroke="#083d77" stroke-width="1.2" stroke-linejoin="round"/>
<circle cx="332.50" cy="43.25" r="1.2" fill="#083d77"/>
<circle cx="346.90" cy="56.75" r="1.2" fill="#083d77"/>
<circle cx="361.30" cy="76.85" r="1.2" fill="#083d77"/>
<circle cx="375.70" cy="95.45" r="1.2" fill="#083d77"/>
<circle cx="390.10" cy="99.65" r="1.2" fill="#083d77"/>
<circle cx="404.50" cy="101.45" r="1.2" fill="#083d77"/>
<circle cx="418.90" cy="102.05" r="1.2" fill="#083d77"/>
<text x="417.30" y="27.50" font-size="7.3" textLength="22.70" lengthAdjust="spacingAndGlyphs">sgRNA</text>
<text x="462.80" y="27.10" font-size="7.3" textLength="26.00" lengthAdjust="spacingAndGlyphs">Cell line</text>
<line x1="446.00" y1="33.70" x2="446.00" y2="71.00" stroke="#c8102e" stroke-width="1.4"/>
<line x1="446.00" y1="76.30" x2="446.00" y2="113.50" stroke="#1d5a93" stroke-width="1.4"/>
<text x="439.70" y="52.60" font-size="7.3" text-anchor="middle" textLength="30.00" lengthAdjust="spacingAndGlyphs" transform="rotate(-90 439.70 52.60)">sgAAVS1</text>
<text x="440.10" y="94.60" font-size="7.3" text-anchor="middle" textLength="36.40" lengthAdjust="spacingAndGlyphs" transform="rotate(-90 440.10 94.60)">sgmTOR_1</text>
<line x1="451.50" y1="36.90" x2="458.80" y2="36.90" stroke="#c8102e" stroke-width="1.2"/>
<path d="M454.00 36.90L455.60 35.60L456.60 36.90L455.60 38.20Z" fill="#c8102e"/>
<text x="462.70" y="39.45" font-size="7.4" textLength="38.02" lengthAdjust="spacingAndGlyphs">ED40515(–)</text>
<line x1="451.50" y1="45.19" x2="458.80" y2="45.19" stroke="#d22f4d" stroke-width="1.2"/>
<path d="M454.00 45.19L455.60 43.89L456.60 45.19L455.60 46.49Z" fill="#d22f4d"/>
<text x="462.70" y="47.74" font-size="7.4" textLength="24.69" lengthAdjust="spacingAndGlyphs">Su9T01</text>
<line x1="451.50" y1="53.48" x2="458.80" y2="53.48" stroke="#db5670" stroke-width="1.2"/>
<path d="M454.00 53.48L455.60 52.18L456.60 53.48L455.60 54.78Z" fill="#db5670"/>
<text x="462.70" y="56.03" font-size="7.4" textLength="12.93" lengthAdjust="spacingAndGlyphs">ST1</text>
<line x1="451.50" y1="61.77" x2="458.80" y2="61.77" stroke="#e58a9c" stroke-width="1.2"/>
<path d="M454.00 61.77L455.60 60.47L456.60 61.77L455.60 63.07Z" fill="#e58a9c"/>
<text x="462.70" y="64.32" font-size="7.4" textLength="13.33" lengthAdjust="spacingAndGlyphs">KK1</text>
<line x1="451.50" y1="70.06" x2="458.80" y2="70.06" stroke="#f2bcc6" stroke-width="1.2"/>
<path d="M454.00 70.06L455.60 68.76L456.60 70.06L455.60 71.36Z" fill="#f2bcc6"/>
<text x="462.70" y="72.61" font-size="7.4" textLength="25.85" lengthAdjust="spacingAndGlyphs">TL-Om1</text>
<line x1="451.50" y1="78.35" x2="458.80" y2="78.35" stroke="#083d77" stroke-width="1.2"/>
<path d="M454.00 78.35L455.60 77.05L456.60 78.35L455.60 79.65Z" fill="#083d77"/>
<text x="462.70" y="80.90" font-size="7.4" textLength="38.02" lengthAdjust="spacingAndGlyphs">ED40515(–)</text>
<line x1="451.50" y1="86.64" x2="458.80" y2="86.64" stroke="#1d5a93" stroke-width="1.2"/>
<path d="M454.00 86.64L455.60 85.34L456.60 86.64L455.60 87.94Z" fill="#1d5a93"/>
<text x="462.70" y="89.19" font-size="7.4" textLength="24.69" lengthAdjust="spacingAndGlyphs">Su9T01</text>
<line x1="451.50" y1="94.93" x2="458.80" y2="94.93" stroke="#3d78ab" stroke-width="1.2"/>
<path d="M454.00 94.93L455.60 93.63L456.60 94.93L455.60 96.23Z" fill="#3d78ab"/>
<text x="462.70" y="97.48" font-size="7.4" textLength="12.93" lengthAdjust="spacingAndGlyphs">ST1</text>
<line x1="451.50" y1="103.22" x2="458.80" y2="103.22" stroke="#79a2c9" stroke-width="1.2"/>
<path d="M454.00 103.22L455.60 101.92L456.60 103.22L455.60 104.52Z" fill="#79a2c9"/>
<text x="462.70" y="105.77" font-size="7.4" textLength="13.33" lengthAdjust="spacingAndGlyphs">KK1</text>
<line x1="451.50" y1="111.51" x2="458.80" y2="111.51" stroke="#b3cce3" stroke-width="1.2"/>
<path d="M454.00 111.51L455.60 110.21L456.60 111.51L455.60 112.81Z" fill="#b3cce3"/>
<text x="462.70" y="114.06" font-size="7.4" textLength="25.85" lengthAdjust="spacingAndGlyphs">TL-Om1</text>
<text x="173.75" y="157.30" font-size="10.5" font-weight="bold" fill="#000">D</text>
<text x="234.30" y="162.80" font-size="8.4" textLength="13.40" lengthAdjust="spacingAndGlyphs">ST1</text>
<line x1="211.00" y1="166.40" x2="271.60" y2="166.40" stroke="#444" stroke-width="1.3"/>
<text x="209.00" y="175.50" font-size="7.6" text-anchor="end" textLength="24.00" lengthAdjust="spacingAndGlyphs">sgTP53</text>
<text x="209.00" y="186.40" font-size="7.6" text-anchor="end" textLength="35.00" lengthAdjust="spacingAndGlyphs">Palbociclib</text>
<line x1="217.90" y1="173.70" x2="221.10" y2="173.70" stroke="#333" stroke-width="0.9"/>
<line x1="231.80" y1="173.70" x2="235.00" y2="173.70" stroke="#333" stroke-width="0.9"/>
<line x1="245.70" y1="173.70" x2="249.30" y2="173.70" stroke="#333" stroke-width="0.9"/>
<line x1="247.50" y1="171.90" x2="247.50" y2="175.50" stroke="#333" stroke-width="0.9"/>
<line x1="259.70" y1="173.70" x2="263.30" y2="173.70" stroke="#333" stroke-width="0.9"/>
<line x1="261.50" y1="171.90" x2="261.50" y2="175.50" stroke="#333" stroke-width="0.9"/>
<line x1="217.90" y1="184.70" x2="221.10" y2="184.70" stroke="#333" stroke-width="0.9"/>
<line x1="231.60" y1="184.70" x2="235.20" y2="184.70" stroke="#333" stroke-width="0.9"/>
<line x1="233.40" y1="182.90" x2="233.40" y2="186.50" stroke="#333" stroke-width="0.9"/>
<line x1="245.90" y1="184.70" x2="249.10" y2="184.70" stroke="#333" stroke-width="0.9"/>
<line x1="259.70" y1="184.70" x2="263.30" y2="184.70" stroke="#333" stroke-width="0.9"/>
<line x1="261.50" y1="182.90" x2="261.50" y2="186.50" stroke="#333" stroke-width="0.9"/>
<rect x="212.00" y="190.10" width="60.50" height="14.80" rx="0.8" fill="#d6d6d6" stroke="#1a1a1a" stroke-width="1.2"/>
<text x="209.20" y="200.40" font-size="8.0" text-anchor="end" textLength="17.69" lengthAdjust="spacingAndGlyphs">TP53</text>
<rect x="212.00" y="207.40" width="60.50" height="14.60" rx="0.8" fill="#eeeeee" stroke="#1a1a1a" stroke-width="1.2"/>
<text x="209.20" y="217.60" font-size="8.0" text-anchor="end" textLength="15.63" lengthAdjust="spacingAndGlyphs">p-S6</text>
<rect x="212.00" y="225.40" width="60.50" height="14.80" rx="0.8" fill="#ebebeb" stroke="#1a1a1a" stroke-width="1.2"/>
<text x="209.20" y="235.70" font-size="8.0" text-anchor="end" textLength="9.05" lengthAdjust="spacingAndGlyphs">S6</text>
<rect x="212.00" y="244.20" width="60.50" height="14.80" rx="0.8" fill="#f0f0f0" stroke="#1a1a1a" stroke-width="1.2"/>
<text x="209.20" y="254.50" font-size="8.0" text-anchor="end" textLength="29.62" lengthAdjust="spacingAndGlyphs">p-4EBP1</text>
<rect x="212.00" y="262.40" width="60.50" height="15.00" rx="0.8" fill="#c8c8c8" stroke="#1a1a1a" stroke-width="1.2"/>
<text x="209.20" y="272.80" font-size="8.0" text-anchor="end" textLength="23.04" lengthAdjust="spacingAndGlyphs">4EBP1</text>
<rect x="212.00" y="280.60" width="60.50" height="15.00" rx="0.8" fill="#eeeeee" stroke="#1a1a1a" stroke-width="1.2"/>
<text x="209.20" y="291.00" font-size="8.0" text-anchor="end" textLength="26.32" lengthAdjust="spacingAndGlyphs">GAPDH</text>
<rect x="214.20" y="196.30" width="10.80" height="2.40" rx="1.20" fill="#7a7a7a" fill-opacity="0.85" filter="url(#b1)"/>
<rect x="229.60" y="196.35" width="11.00" height="2.50" rx="1.25" fill="#707070" fill-opacity="0.9" filter="url(#b1)"/>
<circle cx="252.20" cy="192.90" r="0.7" fill="#222"/>
<circle cx="259.50" cy="197.20" r="0.6" fill="#222"/>
<circle cx="246.80" cy="202.30" r="0.6" fill="#222"/>
<circle cx="256.10" cy="201.40" r="0.6" fill="#222"/>
<circle cx="242.50" cy="204.00" r="0.6" fill="#222"/>
<circle cx="214.60" cy="204.00" r="0.6" fill="#222"/>
<circle cx="228.00" cy="191.80" r="0.4" fill="#222"/>
<rect x="214.20" y="212.30" width="10.80" height="4.40" rx="2.20" fill="#8a8a8a" fill-opacity="0.85" filter="url(#b1)"/>
<rect x="229.60" y="212.30" width="11.00" height="4.40" rx="2.20" fill="#9c9c9c" fill-opacity="0.8" filter="url(#b1)"/>
<rect x="244.40" y="212.30" width="11.40" height="4.40" rx="2.20" fill="#1e1e1e" fill-opacity="0.95" filter="url(#b1)"/>
<rect x="258.90" y="212.30" width="11.50" height="4.40" rx="2.20" fill="#222" fill-opacity="0.95" filter="url(#b1)"/>
<rect x="214.20" y="231.30" width="10.80" height="4.20" rx="2.10" fill="#4a4a4a" fill-opacity="0.9" filter="url(#b1)"/>
<rect x="229.60" y="231.30" width="11.00" height="4.20" rx="2.10" fill="#2a2a2a" fill-opacity="0.95" filter="url(#b1)"/>
<rect x="244.40" y="231.30" width="11.40" height="4.20" rx="2.10" fill="#5a5a5a" fill-opacity="0.85" filter="url(#b1)"/>
<rect x="258.90" y="231.30" width="11.50" height="4.20" rx="2.10" fill="#6a6a6a" fill-opacity="0.85" filter="url(#b1)"/>
<rect x="214.20" y="251.10" width="10.80" height="3.80" rx="1.90" fill="#c4c4c4" fill-opacity="0.8" filter="url(#b1)"/>
<rect x="229.60" y="251.10" width="11.00" height="3.80" rx="1.90" fill="#b0b0b0" fill-opacity="0.8" filter="url(#b1)"/>
<rect x="244.40" y="251.10" width="11.40" height="3.80" rx="1.90" fill="#111" fill-opacity="0.98" filter="url(#b1)"/>
<rect x="258.90" y="251.10" width="11.50" height="3.80" rx="1.90" fill="#777" fill-opacity="0.85" filter="url(#b1)"/>
<rect x="214.20" y="267.55" width="10.80" height="6.50" rx="2.00" fill="#444" fill-opacity="0.88" filter="url(#b2)"/>
<rect x="229.60" y="267.00" width="11.00" height="8.00" rx="3.00" fill="#1a1a1a" fill-opacity="0.95" filter="url(#b2)"/>
<rect x="244.40" y="264.90" width="11.40" height="3.40" rx="1.50" fill="#262626" fill-opacity="0.9" filter="url(#b2)"/>
<rect x="244.40" y="269.40" width="11.40" height="4.80" rx="2.00" fill="#222" fill-opacity="0.9" filter="url(#b2)"/>
<rect x="258.90" y="266.85" width="11.50" height="7.50" rx="3.00" fill="#1a1a1a" fill-opacity="0.95" filter="url(#b2)"/>
<rect x="214.20" y="287.70" width="10.80" height="2.60" rx="1.30" fill="#444" fill-opacity="0.9" filter="url(#b1)"/>
<rect x="229.60" y="287.50" width="11.00" height="2.60" rx="1.30" fill="#444" fill-opacity="0.9" filter="url(#b1)"/>
<rect x="244.40" y="287.30" width="11.40" height="2.60" rx="1.30" fill="#444" fill-opacity="0.9" filter="url(#b1)"/>
<rect x="258.90" y="287.10" width="11.50" height="2.60" rx="1.30" fill="#444" fill-opacity="0.9" filter="url(#b1)"/>
<text x="288.60" y="145.60" font-size="10.5" font-weight="bold" fill="#000">E</text>
<line x1="372.50" y1="150.00" x2="379.40" y2="150.00" stroke="#12508f" stroke-width="1.2"/>
<circle cx="376.00" cy="150.00" r="1.3" fill="#12508f"/>
<text x="382.60" y="152.10" font-size="7.4" textLength="21.90" lengthAdjust="spacingAndGlyphs">DMSO</text>
<line x1="416.80" y1="150.00" x2="424.00" y2="150.00" stroke="#c8102e" stroke-width="1.2"/>
<rect x="419.20" y="148.70" width="2.60" height="2.60" fill="#c8102e"/>
<text x="426.90" y="152.10" font-size="7.4" textLength="35.60" lengthAdjust="spacingAndGlyphs">Everolimus</text>
<text x="334.40" y="165.60" font-size="8.7" textLength="61.20" lengthAdjust="spacingAndGlyphs">ST1: Intact TP53</text>
<text x="431.90" y="165.50" font-size="8.7" textLength="73.10" lengthAdjust="spacingAndGlyphs">KK1: mutated TP53</text>
<text x="296.50" y="203.90" font-size="9.0" text-anchor="middle" textLength="90.00" lengthAdjust="spacingAndGlyphs" transform="rotate(-90 296.50 203.90)">Relative viability (vs DMSO)</text>
<line x1="321.40" y1="172.30" x2="321.40" y2="237.20" stroke="#231f20" stroke-width="1.2"/>
<line x1="320.80" y1="236.60" x2="408.50" y2="236.60" stroke="#231f20" stroke-width="1.2"/>
<line x1="318.60" y1="176.10" x2="321.40" y2="176.10" stroke="#231f20" stroke-width="1.1"/>
<text x="315.20" y="178.70" font-size="8.2" text-anchor="end" textLength="10.57" lengthAdjust="spacingAndGlyphs">1.0</text>
<line x1="318.60" y1="206.35" x2="321.40" y2="206.35" stroke="#231f20" stroke-width="1.1"/>
<text x="315.20" y="208.95" font-size="8.2" text-anchor="end" textLength="10.57" lengthAdjust="spacingAndGlyphs">0.5</text>
<line x1="318.60" y1="236.60" x2="321.40" y2="236.60" stroke="#231f20" stroke-width="1.1"/>
<text x="315.20" y="239.20" font-size="8.2" text-anchor="end" textLength="10.57" lengthAdjust="spacingAndGlyphs">0.0</text>
<line x1="325.60" y1="236.60" x2="325.60" y2="239.20" stroke="#231f20" stroke-width="1.0"/>
<text x="328.50" y="245.80" font-size="7.0" text-anchor="end" textLength="18.60" lengthAdjust="spacingAndGlyphs" transform="rotate(-45 328.50 245.80)">DMSO</text>
<line x1="334.36" y1="236.60" x2="334.36" y2="239.20" stroke="#231f20" stroke-width="1.0"/>
<text x="337.26" y="245.80" font-size="7.0" text-anchor="end" textLength="29.31" lengthAdjust="spacingAndGlyphs" transform="rotate(-45 337.26 245.80)">0.0390625</text>
<line x1="343.12" y1="236.60" x2="343.12" y2="239.20" stroke="#231f20" stroke-width="1.0"/>
<text x="346.02" y="245.80" font-size="7.0" text-anchor="end" textLength="25.86" lengthAdjust="spacingAndGlyphs" transform="rotate(-45 346.02 245.80)">0.078125</text>
<line x1="351.88" y1="236.60" x2="351.88" y2="239.20" stroke="#231f20" stroke-width="1.0"/>
<text x="354.78" y="245.80" font-size="7.0" text-anchor="end" textLength="22.41" lengthAdjust="spacingAndGlyphs" transform="rotate(-45 354.78 245.80)">0.15625</text>
<line x1="360.64" y1="236.60" x2="360.64" y2="239.20" stroke="#231f20" stroke-width="1.0"/>
<text x="363.54" y="245.80" font-size="7.0" text-anchor="end" textLength="18.96" lengthAdjust="spacingAndGlyphs" transform="rotate(-45 363.54 245.80)">0.3125</text>
<line x1="369.40" y1="236.60" x2="369.40" y2="239.20" stroke="#231f20" stroke-width="1.0"/>
<text x="372.30" y="245.80" font-size="7.0" text-anchor="end" textLength="15.52" lengthAdjust="spacingAndGlyphs" transform="rotate(-45 372.30 245.80)">0.625</text>
<line x1="378.16" y1="236.60" x2="378.16" y2="239.20" stroke="#231f20" stroke-width="1.0"/>
<text x="381.06" y="245.80" font-size="7.0" text-anchor="end" textLength="12.07" lengthAdjust="spacingAndGlyphs" transform="rotate(-45 381.06 245.80)">1.25</text>
<line x1="386.92" y1="236.60" x2="386.92" y2="239.20" stroke="#231f20" stroke-width="1.0"/>
<text x="389.82" y="245.80" font-size="7.0" text-anchor="end" textLength="8.62" lengthAdjust="spacingAndGlyphs" transform="rotate(-45 389.82 245.80)">2.5</text>
<line x1="395.68" y1="236.60" x2="395.68" y2="239.20" stroke="#231f20" stroke-width="1.0"/>
<text x="398.58" y="245.80" font-size="7.0" text-anchor="end" textLength="3.45" lengthAdjust="spacingAndGlyphs" transform="rotate(-45 398.58 245.80)">5</text>
<line x1="404.44" y1="236.60" x2="404.44" y2="239.20" stroke="#231f20" stroke-width="1.0"/>
<text x="407.34" y="245.80" font-size="7.0" text-anchor="end" textLength="6.90" lengthAdjust="spacingAndGlyphs" transform="rotate(-45 407.34 245.80)">10</text>
<line x1="343.12" y1="191.54" x2="343.12" y2="194.54" stroke="#d65a6e" stroke-width="0.8"/>
<line x1="341.92" y1="191.54" x2="344.32" y2="191.54" stroke="#d65a6e" stroke-width="0.8"/>
<line x1="341.92" y1="194.54" x2="344.32" y2="194.54" stroke="#d65a6e" stroke-width="0.8"/>
<line x1="404.44" y1="226.63" x2="404.44" y2="233.63" stroke="#4f7fb5" stroke-width="0.8"/>
<line x1="403.24" y1="226.63" x2="405.64" y2="226.63" stroke="#4f7fb5" stroke-width="0.8"/>
<line x1="403.24" y1="233.63" x2="405.64" y2="233.63" stroke="#4f7fb5" stroke-width="0.8"/>
<polyline points="325.60,176.10 334.36,187.59 343.12,193.04 351.88,200.30 360.64,205.14 369.40,213.00 378.16,218.45 386.92,217.24 395.68,219.06 404.44,233.21" fill="none" stroke="#c8102e" stroke-width="1.3" stroke-linejoin="round"/>
<rect x="324.30" y="174.80" width="2.60" height="2.60" fill="#c8102e"/>
<rect x="333.06" y="186.29" width="2.60" height="2.60" fill="#c8102e"/>
<rect x="341.82" y="191.74" width="2.60" height="2.60" fill="#c8102e"/>
<rect x="350.58" y="199.00" width="2.60" height="2.60" fill="#c8102e"/>
<rect x="359.34" y="203.84" width="2.60" height="2.60" fill="#c8102e"/>
<rect x="368.10" y="211.70" width="2.60" height="2.60" fill="#c8102e"/>
<rect x="376.86" y="217.15" width="2.60" height="2.60" fill="#c8102e"/>
<rect x="385.62" y="215.94" width="2.60" height="2.60" fill="#c8102e"/>
<rect x="394.38" y="217.75" width="2.60" height="2.60" fill="#c8102e"/>
<rect x="403.14" y="231.91" width="2.60" height="2.60" fill="#c8102e"/>
<polyline points="325.60,176.10 334.36,177.31 343.12,178.10 351.88,182.75 360.64,186.99 369.40,201.21 378.16,211.19 386.92,214.82 395.68,213.73 404.44,230.13" fill="none" stroke="#12508f" stroke-width="1.3" stroke-linejoin="round"/>
<circle cx="325.60" cy="176.10" r="1.45" fill="#12508f"/>
<circle cx="334.36" cy="177.31" r="1.45" fill="#12508f"/>
<circle cx="343.12" cy="178.10" r="1.45" fill="#12508f"/>
<circle cx="351.88" cy="182.75" r="1.45" fill="#12508f"/>
<circle cx="360.64" cy="186.99" r="1.45" fill="#12508f"/>
<circle cx="369.40" cy="201.21" r="1.45" fill="#12508f"/>
<circle cx="378.16" cy="211.19" r="1.45" fill="#12508f"/>
<circle cx="386.92" cy="214.82" r="1.45" fill="#12508f"/>
<circle cx="395.68" cy="213.73" r="1.45" fill="#12508f"/>
<circle cx="404.44" cy="230.13" r="1.45" fill="#12508f"/>
<line x1="424.90" y1="172.30" x2="424.90" y2="237.20" stroke="#231f20" stroke-width="1.2"/>
<line x1="424.30" y1="236.60" x2="512.60" y2="236.60" stroke="#231f20" stroke-width="1.2"/>
<line x1="422.10" y1="176.10" x2="424.90" y2="176.10" stroke="#231f20" stroke-width="1.1"/>
<line x1="422.10" y1="206.35" x2="424.90" y2="206.35" stroke="#231f20" stroke-width="1.1"/>
<line x1="422.10" y1="236.60" x2="424.90" y2="236.60" stroke="#231f20" stroke-width="1.1"/>
<line x1="429.10" y1="236.60" x2="429.10" y2="239.20" stroke="#231f20" stroke-width="1.0"/>
<text x="432.00" y="245.80" font-size="7.0" text-anchor="end" textLength="18.60" lengthAdjust="spacingAndGlyphs" transform="rotate(-45 432.00 245.80)">DMSO</text>
<line x1="437.90" y1="236.60" x2="437.90" y2="239.20" stroke="#231f20" stroke-width="1.0"/>
<text x="440.80" y="245.80" font-size="7.0" text-anchor="end" textLength="29.31" lengthAdjust="spacingAndGlyphs" transform="rotate(-45 440.80 245.80)">0.0390625</text>
<line x1="446.70" y1="236.60" x2="446.70" y2="239.20" stroke="#231f20" stroke-width="1.0"/>
<text x="449.60" y="245.80" font-size="7.0" text-anchor="end" textLength="25.86" lengthAdjust="spacingAndGlyphs" transform="rotate(-45 449.60 245.80)">0.078125</text>
<line x1="455.50" y1="236.60" x2="455.50" y2="239.20" stroke="#231f20" stroke-width="1.0"/>
<text x="458.40" y="245.80" font-size="7.0" text-anchor="end" textLength="22.41" lengthAdjust="spacingAndGlyphs" transform="rotate(-45 458.40 245.80)">0.15625</text>
<line x1="464.30" y1="236.60" x2="464.30" y2="239.20" stroke="#231f20" stroke-width="1.0"/>
<text x="467.20" y="245.80" font-size="7.0" text-anchor="end" textLength="18.96" lengthAdjust="spacingAndGlyphs" transform="rotate(-45 467.20 245.80)">0.3125</text>
<line x1="473.10" y1="236.60" x2="473.10" y2="239.20" stroke="#231f20" stroke-width="1.0"/>
<text x="476.00" y="245.80" font-size="7.0" text-anchor="end" textLength="15.52" lengthAdjust="spacingAndGlyphs" transform="rotate(-45 476.00 245.80)">0.625</text>
<line x1="481.90" y1="236.60" x2="481.90" y2="239.20" stroke="#231f20" stroke-width="1.0"/>
<text x="484.80" y="245.80" font-size="7.0" text-anchor="end" textLength="12.07" lengthAdjust="spacingAndGlyphs" transform="rotate(-45 484.80 245.80)">1.25</text>
<line x1="490.70" y1="236.60" x2="490.70" y2="239.20" stroke="#231f20" stroke-width="1.0"/>
<text x="493.60" y="245.80" font-size="7.0" text-anchor="end" textLength="8.62" lengthAdjust="spacingAndGlyphs" transform="rotate(-45 493.60 245.80)">2.5</text>
<line x1="499.50" y1="236.60" x2="499.50" y2="239.20" stroke="#231f20" stroke-width="1.0"/>
<text x="502.40" y="245.80" font-size="7.0" text-anchor="end" textLength="3.45" lengthAdjust="spacingAndGlyphs" transform="rotate(-45 502.40 245.80)">5</text>
<line x1="508.30" y1="236.60" x2="508.30" y2="239.20" stroke="#231f20" stroke-width="1.0"/>
<text x="511.20" y="245.80" font-size="7.0" text-anchor="end" textLength="6.90" lengthAdjust="spacingAndGlyphs" transform="rotate(-45 511.20 245.80)">10</text>
<polyline points="429.10,176.10 437.90,191.22 446.70,199.09 455.50,208.16 464.30,214.22 473.10,220.57 481.90,223.53 490.70,224.32 499.50,225.71 508.30,228.73" fill="none" stroke="#c8102e" stroke-width="1.3" stroke-linejoin="round"/>
<rect x="427.80" y="174.80" width="2.60" height="2.60" fill="#c8102e"/>
<rect x="436.60" y="189.92" width="2.60" height="2.60" fill="#c8102e"/>
<rect x="445.40" y="197.79" width="2.60" height="2.60" fill="#c8102e"/>
<rect x="454.20" y="206.86" width="2.60" height="2.60" fill="#c8102e"/>
<rect x="463.00" y="212.91" width="2.60" height="2.60" fill="#c8102e"/>
<rect x="471.80" y="219.27" width="2.60" height="2.60" fill="#c8102e"/>
<rect x="480.60" y="222.23" width="2.60" height="2.60" fill="#c8102e"/>
<rect x="489.40" y="223.02" width="2.60" height="2.60" fill="#c8102e"/>
<rect x="498.20" y="224.41" width="2.60" height="2.60" fill="#c8102e"/>
<rect x="507.00" y="227.43" width="2.60" height="2.60" fill="#c8102e"/>
<polyline points="429.10,176.10 437.90,177.91 446.70,178.22 455.50,180.33 464.30,182.75 473.10,185.48 481.90,191.83 490.70,194.25 499.50,201.81 508.30,214.22" fill="none" stroke="#12508f" stroke-width="1.3" stroke-linejoin="round"/>
<circle cx="429.10" cy="176.10" r="1.45" fill="#12508f"/>
<circle cx="437.90" cy="177.91" r="1.45" fill="#12508f"/>
<circle cx="446.70" cy="178.22" r="1.45" fill="#12508f"/>
<circle cx="455.50" cy="180.33" r="1.45" fill="#12508f"/>
<circle cx="464.30" cy="182.75" r="1.45" fill="#12508f"/>
<circle cx="473.10" cy="185.48" r="1.45" fill="#12508f"/>
<circle cx="481.90" cy="191.83" r="1.45" fill="#12508f"/>
<circle cx="490.70" cy="194.25" r="1.45" fill="#12508f"/>
<circle cx="499.50" cy="201.81" r="1.45" fill="#12508f"/>
<circle cx="508.30" cy="214.22" r="1.45" fill="#12508f"/>
<text x="389.90" y="277.60" font-size="9.0" textLength="54.50" lengthAdjust="spacingAndGlyphs">Palbociclib (µM)</text>
<text x="304.20" y="332.30" font-size="8.8" text-anchor="middle" textLength="63.00" lengthAdjust="spacingAndGlyphs" transform="rotate(-90 304.20 332.30)">Combination index</text>
<line x1="321.50" y1="294.30" x2="321.50" y2="371.30" stroke="#231f20" stroke-width="1.2"/>
<line x1="320.90" y1="370.70" x2="408.50" y2="370.70" stroke="#231f20" stroke-width="1.2"/>
<line x1="318.50" y1="298.60" x2="321.50" y2="298.60" stroke="#231f20" stroke-width="1.1"/>
<line x1="318.50" y1="316.62" x2="321.50" y2="316.62" stroke="#231f20" stroke-width="1.1"/>
<line x1="318.50" y1="334.65" x2="321.50" y2="334.65" stroke="#231f20" stroke-width="1.1"/>
<line x1="318.50" y1="352.68" x2="321.50" y2="352.68" stroke="#231f20" stroke-width="1.1"/>
<line x1="318.50" y1="370.70" x2="321.50" y2="370.70" stroke="#231f20" stroke-width="1.1"/>
<text x="315.60" y="301.20" font-size="7.8" text-anchor="end" textLength="4.00" lengthAdjust="spacingAndGlyphs">2</text>
<text x="315.60" y="337.25" font-size="7.8" text-anchor="end" textLength="4.00" lengthAdjust="spacingAndGlyphs">1</text>
<text x="315.60" y="373.30" font-size="7.8" text-anchor="end" textLength="4.00" lengthAdjust="spacingAndGlyphs">0</text>
<line x1="321.50" y1="370.70" x2="321.50" y2="373.50" stroke="#231f20" stroke-width="1.0"/>
<line x1="329.80" y1="370.70" x2="329.80" y2="373.50" stroke="#231f20" stroke-width="1.0"/>
<line x1="338.10" y1="370.70" x2="338.10" y2="373.50" stroke="#231f20" stroke-width="1.0"/>
<line x1="346.40" y1="370.70" x2="346.40" y2="373.50" stroke="#231f20" stroke-width="1.0"/>
<line x1="354.70" y1="370.70" x2="354.70" y2="373.50" stroke="#231f20" stroke-width="1.0"/>
<line x1="363.00" y1="370.70" x2="363.00" y2="373.50" stroke="#231f20" stroke-width="1.0"/>
<line x1="371.30" y1="370.70" x2="371.30" y2="373.50" stroke="#231f20" stroke-width="1.0"/>
<line x1="379.60" y1="370.70" x2="379.60" y2="373.50" stroke="#231f20" stroke-width="1.0"/>
<line x1="387.90" y1="370.70" x2="387.90" y2="373.50" stroke="#231f20" stroke-width="1.0"/>
<line x1="396.20" y1="370.70" x2="396.20" y2="373.50" stroke="#231f20" stroke-width="1.0"/>
<line x1="404.50" y1="370.70" x2="404.50" y2="373.50" stroke="#231f20" stroke-width="1.0"/>
<text x="321.50" y="382.70" font-size="7.8" text-anchor="middle" textLength="4.00" lengthAdjust="spacingAndGlyphs">0</text>
<text x="363.00" y="382.70" font-size="7.8" text-anchor="middle" textLength="10.01" lengthAdjust="spacingAndGlyphs">0.5</text>
<text x="404.50" y="382.70" font-size="7.8" text-anchor="middle" textLength="4.00" lengthAdjust="spacingAndGlyphs">1</text>
<line x1="322.50" y1="334.60" x2="408.00" y2="334.60" stroke="#222" stroke-width="0.9" stroke-dasharray="0.9 0.9"/>
<circle cx="350.80" cy="352.30" r="1.35" fill="#c8102e"/>
<circle cx="358.20" cy="354.20" r="1.35" fill="#c8102e"/>
<circle cx="365.80" cy="355.40" r="1.35" fill="#c8102e"/>
<circle cx="371.50" cy="354.20" r="1.35" fill="#c8102e"/>
<circle cx="380.30" cy="353.50" r="1.35" fill="#c8102e"/>
<circle cx="386.20" cy="349.70" r="1.35" fill="#c8102e"/>
<line x1="424.70" y1="294.20" x2="424.70" y2="371.30" stroke="#231f20" stroke-width="1.2"/>
<line x1="424.10" y1="370.70" x2="512.60" y2="370.70" stroke="#231f20" stroke-width="1.2"/>
<line x1="421.70" y1="298.60" x2="424.70" y2="298.60" stroke="#231f20" stroke-width="1.1"/>
<line x1="421.70" y1="316.62" x2="424.70" y2="316.62" stroke="#231f20" stroke-width="1.1"/>
<line x1="421.70" y1="334.65" x2="424.70" y2="334.65" stroke="#231f20" stroke-width="1.1"/>
<line x1="421.70" y1="352.68" x2="424.70" y2="352.68" stroke="#231f20" stroke-width="1.1"/>
<line x1="421.70" y1="370.70" x2="424.70" y2="370.70" stroke="#231f20" stroke-width="1.1"/>
<line x1="424.70" y1="370.70" x2="424.70" y2="373.50" stroke="#231f20" stroke-width="1.0"/>
<line x1="433.05" y1="370.70" x2="433.05" y2="373.50" stroke="#231f20" stroke-width="1.0"/>
<line x1="441.40" y1="370.70" x2="441.40" y2="373.50" stroke="#231f20" stroke-width="1.0"/>
<line x1="449.75" y1="370.70" x2="449.75" y2="373.50" stroke="#231f20" stroke-width="1.0"/>
<line x1="458.10" y1="370.70" x2="458.10" y2="373.50" stroke="#231f20" stroke-width="1.0"/>
<line x1="466.45" y1="370.70" x2="466.45" y2="373.50" stroke="#231f20" stroke-width="1.0"/>
<line x1="474.80" y1="370.70" x2="474.80" y2="373.50" stroke="#231f20" stroke-width="1.0"/>
<line x1="483.15" y1="370.70" x2="483.15" y2="373.50" stroke="#231f20" stroke-width="1.0"/>
<line x1="491.50" y1="370.70" x2="491.50" y2="373.50" stroke="#231f20" stroke-width="1.0"/>
<line x1="499.85" y1="370.70" x2="499.85" y2="373.50" stroke="#231f20" stroke-width="1.0"/>
<line x1="508.20" y1="370.70" x2="508.20" y2="373.50" stroke="#231f20" stroke-width="1.0"/>
<text x="424.70" y="382.70" font-size="7.8" text-anchor="middle" textLength="4.00" lengthAdjust="spacingAndGlyphs">0</text>
<text x="466.45" y="382.70" font-size="7.8" text-anchor="middle" textLength="10.01" lengthAdjust="spacingAndGlyphs">0.5</text>
<text x="508.20" y="382.70" font-size="7.8" text-anchor="middle" textLength="4.00" lengthAdjust="spacingAndGlyphs">1</text>
<line x1="425.70" y1="334.60" x2="512.10" y2="334.60" stroke="#222" stroke-width="0.9" stroke-dasharray="0.9 0.9"/>
<circle cx="457.00" cy="354.20" r="1.35" fill="#c8102e"/>
<circle cx="465.80" cy="355.30" r="1.35" fill="#c8102e"/>
<circle cx="477.50" cy="356.90" r="1.35" fill="#c8102e"/>
<circle cx="484.50" cy="357.60" r="1.35" fill="#c8102e"/>
<circle cx="490.00" cy="357.80" r="1.35" fill="#c8102e"/>
<circle cx="491.80" cy="358.80" r="1.35" fill="#c8102e"/>
<circle cx="495.10" cy="358.30" r="1.35" fill="#c8102e"/>
<circle cx="496.90" cy="357.60" r="1.35" fill="#c8102e"/>
<circle cx="500.80" cy="357.60" r="1.35" fill="#c8102e"/>
<text x="390.80" y="395.60" font-size="9.4" textLength="51.90" lengthAdjust="spacingAndGlyphs">Fractional effect</text>
<text x="288.60" y="416.00" font-size="10.5" font-weight="bold" fill="#000">F</text>
<line x1="372.50" y1="410.50" x2="379.40" y2="410.50" stroke="#12508f" stroke-width="1.2"/>
<circle cx="376.00" cy="410.50" r="1.3" fill="#12508f"/>
<text x="382.60" y="412.60" font-size="7.4" textLength="21.90" lengthAdjust="spacingAndGlyphs">DMSO</text>
<line x1="416.80" y1="410.50" x2="424.00" y2="410.50" stroke="#c8102e" stroke-width="1.2"/>
<rect x="419.20" y="409.20" width="2.60" height="2.60" fill="#c8102e"/>
<text x="426.90" y="412.60" font-size="7.4" textLength="35.60" lengthAdjust="spacingAndGlyphs">Everolimus</text>
<text x="347.50" y="425.60" font-size="8.7" textLength="33.70" lengthAdjust="spacingAndGlyphs">sgAAVS1</text>
<text x="455.10" y="426.10" font-size="8.7" textLength="27.70" lengthAdjust="spacingAndGlyphs">sgTP53</text>
<text x="296.50" y="468.30" font-size="9.0" text-anchor="middle" textLength="90.00" lengthAdjust="spacingAndGlyphs" transform="rotate(-90 296.50 468.30)">Relative viability (vs DMSO)</text>
<line x1="321.40" y1="432.50" x2="321.40" y2="505.20" stroke="#231f20" stroke-width="1.2"/>
<line x1="320.80" y1="504.60" x2="408.40" y2="504.60" stroke="#231f20" stroke-width="1.2"/>
<line x1="318.60" y1="444.30" x2="321.40" y2="444.30" stroke="#231f20" stroke-width="1.1"/>
<text x="315.20" y="446.90" font-size="8.2" text-anchor="end" textLength="10.57" lengthAdjust="spacingAndGlyphs">1.0</text>
<line x1="318.60" y1="474.45" x2="321.40" y2="474.45" stroke="#231f20" stroke-width="1.1"/>
<text x="315.20" y="477.05" font-size="8.2" text-anchor="end" textLength="10.57" lengthAdjust="spacingAndGlyphs">0.5</text>
<line x1="318.60" y1="504.60" x2="321.40" y2="504.60" stroke="#231f20" stroke-width="1.1"/>
<text x="315.20" y="507.20" font-size="8.2" text-anchor="end" textLength="10.57" lengthAdjust="spacingAndGlyphs">0.0</text>
<line x1="325.40" y1="504.60" x2="325.40" y2="507.20" stroke="#231f20" stroke-width="1.0"/>
<text x="328.30" y="513.80" font-size="7.0" text-anchor="end" textLength="18.60" lengthAdjust="spacingAndGlyphs" transform="rotate(-45 328.30 513.80)">DMSO</text>
<line x1="334.20" y1="504.60" x2="334.20" y2="507.20" stroke="#231f20" stroke-width="1.0"/>
<text x="337.10" y="513.80" font-size="7.0" text-anchor="end" textLength="29.31" lengthAdjust="spacingAndGlyphs" transform="rotate(-45 337.10 513.80)">0.0390625</text>
<line x1="343.00" y1="504.60" x2="343.00" y2="507.20" stroke="#231f20" stroke-width="1.0"/>
<text x="345.90" y="513.80" font-size="7.0" text-anchor="end" textLength="25.86" lengthAdjust="spacingAndGlyphs" transform="rotate(-45 345.90 513.80)">0.078125</text>
<line x1="351.80" y1="504.60" x2="351.80" y2="507.20" stroke="#231f20" stroke-width="1.0"/>
<text x="354.70" y="513.80" font-size="7.0" text-anchor="end" textLength="22.41" lengthAdjust="spacingAndGlyphs" transform="rotate(-45 354.70 513.80)">0.15625</text>
<line x1="360.60" y1="504.60" x2="360.60" y2="507.20" stroke="#231f20" stroke-width="1.0"/>
<text x="363.50" y="513.80" font-size="7.0" text-anchor="end" textLength="18.96" lengthAdjust="spacingAndGlyphs" transform="rotate(-45 363.50 513.80)">0.3125</text>
<line x1="369.40" y1="504.60" x2="369.40" y2="507.20" stroke="#231f20" stroke-width="1.0"/>
<text x="372.30" y="513.80" font-size="7.0" text-anchor="end" textLength="15.52" lengthAdjust="spacingAndGlyphs" transform="rotate(-45 372.30 513.80)">0.625</text>
<line x1="378.20" y1="504.60" x2="378.20" y2="507.20" stroke="#231f20" stroke-width="1.0"/>
<text x="381.10" y="513.80" font-size="7.0" text-anchor="end" textLength="12.07" lengthAdjust="spacingAndGlyphs" transform="rotate(-45 381.10 513.80)">1.25</text>
<line x1="387.00" y1="504.60" x2="387.00" y2="507.20" stroke="#231f20" stroke-width="1.0"/>
<text x="389.90" y="513.80" font-size="7.0" text-anchor="end" textLength="8.62" lengthAdjust="spacingAndGlyphs" transform="rotate(-45 389.90 513.80)">2.5</text>
<line x1="395.80" y1="504.60" x2="395.80" y2="507.20" stroke="#231f20" stroke-width="1.0"/>
<text x="398.70" y="513.80" font-size="7.0" text-anchor="end" textLength="3.45" lengthAdjust="spacingAndGlyphs" transform="rotate(-45 398.70 513.80)">5</text>
<line x1="404.60" y1="504.60" x2="404.60" y2="507.20" stroke="#231f20" stroke-width="1.0"/>
<text x="407.50" y="513.80" font-size="7.0" text-anchor="end" textLength="6.90" lengthAdjust="spacingAndGlyphs" transform="rotate(-45 407.50 513.80)">10</text>
<line x1="334.20" y1="440.29" x2="334.20" y2="444.69" stroke="#4f7fb5" stroke-width="0.8"/>
<line x1="333.00" y1="440.29" x2="335.40" y2="440.29" stroke="#4f7fb5" stroke-width="0.8"/>
<line x1="333.00" y1="444.69" x2="335.40" y2="444.69" stroke="#4f7fb5" stroke-width="0.8"/>
<line x1="378.20" y1="478.88" x2="378.20" y2="482.08" stroke="#d65a6e" stroke-width="0.8"/>
<line x1="377.00" y1="478.88" x2="379.40" y2="478.88" stroke="#d65a6e" stroke-width="0.8"/>
<line x1="377.00" y1="482.08" x2="379.40" y2="482.08" stroke="#d65a6e" stroke-width="0.8"/>
<polyline points="325.40,444.30 334.20,458.89 343.00,463.78 351.80,470.47 360.60,473.73 369.40,478.49 378.20,480.48 387.00,480.66 395.80,479.27 404.60,504.60" fill="none" stroke="#c8102e" stroke-width="1.3" stroke-linejoin="round"/>
<rect x="324.10" y="443.00" width="2.60" height="2.60" fill="#c8102e"/>
<rect x="332.90" y="457.59" width="2.60" height="2.60" fill="#c8102e"/>
<rect x="341.70" y="462.48" width="2.60" height="2.60" fill="#c8102e"/>
<rect x="350.50" y="469.17" width="2.60" height="2.60" fill="#c8102e"/>
<rect x="359.30" y="472.43" width="2.60" height="2.60" fill="#c8102e"/>
<rect x="368.10" y="477.19" width="2.60" height="2.60" fill="#c8102e"/>
<rect x="376.90" y="479.18" width="2.60" height="2.60" fill="#c8102e"/>
<rect x="385.70" y="479.36" width="2.60" height="2.60" fill="#c8102e"/>
<rect x="394.50" y="477.97" width="2.60" height="2.60" fill="#c8102e"/>
<rect x="403.30" y="503.30" width="2.60" height="2.60" fill="#c8102e"/>
<polyline points="325.40,444.30 334.20,442.49 343.00,447.01 351.80,452.62 360.60,463.60 369.40,471.44 378.20,475.23 387.00,473.55 395.80,472.64 404.60,504.60" fill="none" stroke="#12508f" stroke-width="1.3" stroke-linejoin="round"/>
<circle cx="325.40" cy="444.30" r="1.45" fill="#12508f"/>
<circle cx="334.20" cy="442.49" r="1.45" fill="#12508f"/>
<circle cx="343.00" cy="447.01" r="1.45" fill="#12508f"/>
<circle cx="351.80" cy="452.62" r="1.45" fill="#12508f"/>
<circle cx="360.60" cy="463.60" r="1.45" fill="#12508f"/>
<circle cx="369.40" cy="471.44" r="1.45" fill="#12508f"/>
<circle cx="378.20" cy="475.23" r="1.45" fill="#12508f"/>
<circle cx="387.00" cy="473.55" r="1.45" fill="#12508f"/>
<circle cx="395.80" cy="472.64" r="1.45" fill="#12508f"/>
<circle cx="404.60" cy="504.60" r="1.45" fill="#12508f"/>
<line x1="425.10" y1="432.30" x2="425.10" y2="505.20" stroke="#231f20" stroke-width="1.2"/>
<line x1="424.50" y1="504.60" x2="512.20" y2="504.60" stroke="#231f20" stroke-width="1.2"/>
<line x1="422.30" y1="444.30" x2="425.10" y2="444.30" stroke="#231f20" stroke-width="1.1"/>
<line x1="422.30" y1="474.45" x2="425.10" y2="474.45" stroke="#231f20" stroke-width="1.1"/>
<line x1="422.30" y1="504.60" x2="425.10" y2="504.60" stroke="#231f20" stroke-width="1.1"/>
<line x1="429.20" y1="504.60" x2="429.20" y2="507.20" stroke="#231f20" stroke-width="1.0"/>
<text x="432.10" y="513.80" font-size="7.0" text-anchor="end" textLength="18.60" lengthAdjust="spacingAndGlyphs" transform="rotate(-45 432.10 513.80)">DMSO</text>
<line x1="438.00" y1="504.60" x2="438.00" y2="507.20" stroke="#231f20" stroke-width="1.0"/>
<text x="440.90" y="513.80" font-size="7.0" text-anchor="end" textLength="29.31" lengthAdjust="spacingAndGlyphs" transform="rotate(-45 440.90 513.80)">0.0390625</text>
<line x1="446.80" y1="504.60" x2="446.80" y2="507.20" stroke="#231f20" stroke-width="1.0"/>
<text x="449.70" y="513.80" font-size="7.0" text-anchor="end" textLength="25.86" lengthAdjust="spacingAndGlyphs" transform="rotate(-45 449.70 513.80)">0.078125</text>
<line x1="455.60" y1="504.60" x2="455.60" y2="507.20" stroke="#231f20" stroke-width="1.0"/>
<text x="458.50" y="513.80" font-size="7.0" text-anchor="end" textLength="22.41" lengthAdjust="spacingAndGlyphs" transform="rotate(-45 458.50 513.80)">0.15625</text>
<line x1="464.40" y1="504.60" x2="464.40" y2="507.20" stroke="#231f20" stroke-width="1.0"/>
<text x="467.30" y="513.80" font-size="7.0" text-anchor="end" textLength="18.96" lengthAdjust="spacingAndGlyphs" transform="rotate(-45 467.30 513.80)">0.3125</text>
<line x1="473.20" y1="504.60" x2="473.20" y2="507.20" stroke="#231f20" stroke-width="1.0"/>
<text x="476.10" y="513.80" font-size="7.0" text-anchor="end" textLength="15.52" lengthAdjust="spacingAndGlyphs" transform="rotate(-45 476.10 513.80)">0.625</text>
<line x1="482.00" y1="504.60" x2="482.00" y2="507.20" stroke="#231f20" stroke-width="1.0"/>
<text x="484.90" y="513.80" font-size="7.0" text-anchor="end" textLength="12.07" lengthAdjust="spacingAndGlyphs" transform="rotate(-45 484.90 513.80)">1.25</text>
<line x1="490.80" y1="504.60" x2="490.80" y2="507.20" stroke="#231f20" stroke-width="1.0"/>
<text x="493.70" y="513.80" font-size="7.0" text-anchor="end" textLength="8.62" lengthAdjust="spacingAndGlyphs" transform="rotate(-45 493.70 513.80)">2.5</text>
<line x1="499.60" y1="504.60" x2="499.60" y2="507.20" stroke="#231f20" stroke-width="1.0"/>
<text x="502.50" y="513.80" font-size="7.0" text-anchor="end" textLength="3.45" lengthAdjust="spacingAndGlyphs" transform="rotate(-45 502.50 513.80)">5</text>
<line x1="508.40" y1="504.60" x2="508.40" y2="507.20" stroke="#231f20" stroke-width="1.0"/>
<text x="511.30" y="513.80" font-size="7.0" text-anchor="end" textLength="6.90" lengthAdjust="spacingAndGlyphs" transform="rotate(-45 511.30 513.80)">10</text>
<line x1="438.00" y1="436.07" x2="438.00" y2="441.67" stroke="#4f7fb5" stroke-width="0.8"/>
<line x1="436.80" y1="436.07" x2="439.20" y2="436.07" stroke="#4f7fb5" stroke-width="0.8"/>
<line x1="436.80" y1="441.67" x2="439.20" y2="441.67" stroke="#4f7fb5" stroke-width="0.8"/>
<line x1="446.80" y1="438.29" x2="446.80" y2="446.69" stroke="#4f7fb5" stroke-width="0.8"/>
<line x1="445.60" y1="438.29" x2="448.00" y2="438.29" stroke="#4f7fb5" stroke-width="0.8"/>
<line x1="445.60" y1="446.69" x2="448.00" y2="446.69" stroke="#4f7fb5" stroke-width="0.8"/>
<line x1="455.60" y1="436.18" x2="455.60" y2="445.78" stroke="#4f7fb5" stroke-width="0.8"/>
<line x1="454.40" y1="436.18" x2="456.80" y2="436.18" stroke="#4f7fb5" stroke-width="0.8"/>
<line x1="454.40" y1="445.78" x2="456.80" y2="445.78" stroke="#4f7fb5" stroke-width="0.8"/>
<line x1="464.40" y1="442.21" x2="464.40" y2="448.81" stroke="#4f7fb5" stroke-width="0.8"/>
<line x1="463.20" y1="442.21" x2="465.60" y2="442.21" stroke="#4f7fb5" stroke-width="0.8"/>
<line x1="463.20" y1="448.81" x2="465.60" y2="448.81" stroke="#4f7fb5" stroke-width="0.8"/>
<line x1="438.00" y1="452.80" x2="438.00" y2="460.40" stroke="#d65a6e" stroke-width="0.8"/>
<line x1="436.80" y1="452.80" x2="439.20" y2="452.80" stroke="#d65a6e" stroke-width="0.8"/>
<line x1="436.80" y1="460.40" x2="439.20" y2="460.40" stroke="#d65a6e" stroke-width="0.8"/>
<line x1="446.80" y1="457.78" x2="446.80" y2="462.78" stroke="#d65a6e" stroke-width="0.8"/>
<line x1="445.60" y1="457.78" x2="448.00" y2="457.78" stroke="#d65a6e" stroke-width="0.8"/>
<line x1="445.60" y1="462.78" x2="448.00" y2="462.78" stroke="#d65a6e" stroke-width="0.8"/>
<line x1="499.60" y1="475.77" x2="499.60" y2="479.77" stroke="#d65a6e" stroke-width="0.8"/>
<line x1="498.40" y1="475.77" x2="500.80" y2="475.77" stroke="#d65a6e" stroke-width="0.8"/>
<line x1="498.40" y1="479.77" x2="500.80" y2="479.77" stroke="#d65a6e" stroke-width="0.8"/>
<polyline points="429.20,444.30 438.00,456.60 446.80,460.28 455.60,470.47 464.40,472.34 473.20,477.16 482.00,481.99 490.80,481.08 499.60,477.77 508.40,504.60" fill="none" stroke="#c8102e" stroke-width="1.3" stroke-linejoin="round"/>
<rect x="427.90" y="443.00" width="2.60" height="2.60" fill="#c8102e"/>
<rect x="436.70" y="455.30" width="2.60" height="2.60" fill="#c8102e"/>
<rect x="445.50" y="458.98" width="2.60" height="2.60" fill="#c8102e"/>
<rect x="454.30" y="469.17" width="2.60" height="2.60" fill="#c8102e"/>
<rect x="463.10" y="471.04" width="2.60" height="2.60" fill="#c8102e"/>
<rect x="471.90" y="475.86" width="2.60" height="2.60" fill="#c8102e"/>
<rect x="480.70" y="480.69" width="2.60" height="2.60" fill="#c8102e"/>
<rect x="489.50" y="479.78" width="2.60" height="2.60" fill="#c8102e"/>
<rect x="498.30" y="476.47" width="2.60" height="2.60" fill="#c8102e"/>
<rect x="507.10" y="503.30" width="2.60" height="2.60" fill="#c8102e"/>
<polyline points="429.20,444.30 438.00,438.87 446.80,442.49 455.60,440.98 464.40,445.51 473.20,450.93 482.00,460.88 490.80,469.45 499.60,467.21 508.40,504.60" fill="none" stroke="#12508f" stroke-width="1.3" stroke-linejoin="round"/>
<circle cx="429.20" cy="444.30" r="1.45" fill="#12508f"/>
<circle cx="438.00" cy="438.87" r="1.45" fill="#12508f"/>
<circle cx="446.80" cy="442.49" r="1.45" fill="#12508f"/>
<circle cx="455.60" cy="440.98" r="1.45" fill="#12508f"/>
<circle cx="464.40" cy="445.51" r="1.45" fill="#12508f"/>
<circle cx="473.20" cy="450.93" r="1.45" fill="#12508f"/>
<circle cx="482.00" cy="460.88" r="1.45" fill="#12508f"/>
<circle cx="490.80" cy="469.45" r="1.45" fill="#12508f"/>
<circle cx="499.60" cy="467.21" r="1.45" fill="#12508f"/>
<circle cx="508.40" cy="504.60" r="1.45" fill="#12508f"/>
<text x="388.20" y="545.90" font-size="9.0" textLength="56.00" lengthAdjust="spacingAndGlyphs">Palbociclib (µM)</text>
<text x="307.30" y="597.60" font-size="8.8" text-anchor="middle" textLength="63.00" lengthAdjust="spacingAndGlyphs" transform="rotate(-90 307.30 597.60)">Combination index</text>
<line x1="321.50" y1="559.40" x2="321.50" y2="636.30" stroke="#231f20" stroke-width="1.2"/>
<line x1="320.90" y1="635.70" x2="408.50" y2="635.70" stroke="#231f20" stroke-width="1.2"/>
<line x1="318.50" y1="563.60" x2="321.50" y2="563.60" stroke="#231f20" stroke-width="1.1"/>
<line x1="318.50" y1="581.62" x2="321.50" y2="581.62" stroke="#231f20" stroke-width="1.1"/>
<line x1="318.50" y1="599.65" x2="321.50" y2="599.65" stroke="#231f20" stroke-width="1.1"/>
<line x1="318.50" y1="617.68" x2="321.50" y2="617.68" stroke="#231f20" stroke-width="1.1"/>
<line x1="318.50" y1="635.70" x2="321.50" y2="635.70" stroke="#231f20" stroke-width="1.1"/>
<text x="315.60" y="566.20" font-size="7.8" text-anchor="end" textLength="4.00" lengthAdjust="spacingAndGlyphs">2</text>
<text x="315.60" y="602.25" font-size="7.8" text-anchor="end" textLength="4.00" lengthAdjust="spacingAndGlyphs">1</text>
<text x="315.60" y="638.30" font-size="7.8" text-anchor="end" textLength="4.00" lengthAdjust="spacingAndGlyphs">0</text>
<line x1="321.50" y1="635.70" x2="321.50" y2="638.50" stroke="#231f20" stroke-width="1.0"/>
<line x1="329.80" y1="635.70" x2="329.80" y2="638.50" stroke="#231f20" stroke-width="1.0"/>
<line x1="338.10" y1="635.70" x2="338.10" y2="638.50" stroke="#231f20" stroke-width="1.0"/>
<line x1="346.40" y1="635.70" x2="346.40" y2="638.50" stroke="#231f20" stroke-width="1.0"/>
<line x1="354.70" y1="635.70" x2="354.70" y2="638.50" stroke="#231f20" stroke-width="1.0"/>
<line x1="363.00" y1="635.70" x2="363.00" y2="638.50" stroke="#231f20" stroke-width="1.0"/>
<line x1="371.30" y1="635.70" x2="371.30" y2="638.50" stroke="#231f20" stroke-width="1.0"/>
<line x1="379.60" y1="635.70" x2="379.60" y2="638.50" stroke="#231f20" stroke-width="1.0"/>
<line x1="387.90" y1="635.70" x2="387.90" y2="638.50" stroke="#231f20" stroke-width="1.0"/>
<line x1="396.20" y1="635.70" x2="396.20" y2="638.50" stroke="#231f20" stroke-width="1.0"/>
<line x1="404.50" y1="635.70" x2="404.50" y2="638.50" stroke="#231f20" stroke-width="1.0"/>
<text x="321.50" y="647.70" font-size="7.8" text-anchor="middle" textLength="4.00" lengthAdjust="spacingAndGlyphs">0</text>
<text x="363.00" y="647.70" font-size="7.8" text-anchor="middle" textLength="10.01" lengthAdjust="spacingAndGlyphs">0.5</text>
<text x="404.50" y="647.70" font-size="7.8" text-anchor="middle" textLength="4.00" lengthAdjust="spacingAndGlyphs">1</text>
<line x1="322.50" y1="599.60" x2="408.00" y2="599.60" stroke="#222" stroke-width="0.9" stroke-dasharray="0.9 0.9"/>
<circle cx="375.40" cy="631.20" r="1.35" fill="#c8102e"/>
<circle cx="380.30" cy="632.00" r="1.35" fill="#c8102e"/>
<circle cx="383.10" cy="629.70" r="1.35" fill="#c8102e"/>
<circle cx="386.50" cy="626.30" r="1.35" fill="#c8102e"/>
<circle cx="388.90" cy="629.20" r="1.35" fill="#c8102e"/>
<circle cx="390.50" cy="630.00" r="1.35" fill="#c8102e"/>
<circle cx="392.00" cy="630.30" r="1.35" fill="#c8102e"/>
<line x1="424.70" y1="559.20" x2="424.70" y2="636.30" stroke="#231f20" stroke-width="1.2"/>
<line x1="424.10" y1="635.70" x2="512.60" y2="635.70" stroke="#231f20" stroke-width="1.2"/>
<line x1="421.70" y1="563.60" x2="424.70" y2="563.60" stroke="#231f20" stroke-width="1.1"/>
<line x1="421.70" y1="581.62" x2="424.70" y2="581.62" stroke="#231f20" stroke-width="1.1"/>
<line x1="421.70" y1="599.65" x2="424.70" y2="599.65" stroke="#231f20" stroke-width="1.1"/>
<line x1="421.70" y1="617.68" x2="424.70" y2="617.68" stroke="#231f20" stroke-width="1.1"/>
<line x1="421.70" y1="635.70" x2="424.70" y2="635.70" stroke="#231f20" stroke-width="1.1"/>
<line x1="424.70" y1="635.70" x2="424.70" y2="638.50" stroke="#231f20" stroke-width="1.0"/>
<line x1="433.05" y1="635.70" x2="433.05" y2="638.50" stroke="#231f20" stroke-width="1.0"/>
<line x1="441.40" y1="635.70" x2="441.40" y2="638.50" stroke="#231f20" stroke-width="1.0"/>
<line x1="449.75" y1="635.70" x2="449.75" y2="638.50" stroke="#231f20" stroke-width="1.0"/>
<line x1="458.10" y1="635.70" x2="458.10" y2="638.50" stroke="#231f20" stroke-width="1.0"/>
<line x1="466.45" y1="635.70" x2="466.45" y2="638.50" stroke="#231f20" stroke-width="1.0"/>
<line x1="474.80" y1="635.70" x2="474.80" y2="638.50" stroke="#231f20" stroke-width="1.0"/>
<line x1="483.15" y1="635.70" x2="483.15" y2="638.50" stroke="#231f20" stroke-width="1.0"/>
<line x1="491.50" y1="635.70" x2="491.50" y2="638.50" stroke="#231f20" stroke-width="1.0"/>
<line x1="499.85" y1="635.70" x2="499.85" y2="638.50" stroke="#231f20" stroke-width="1.0"/>
<line x1="508.20" y1="635.70" x2="508.20" y2="638.50" stroke="#231f20" stroke-width="1.0"/>
<text x="424.70" y="647.70" font-size="7.8" text-anchor="middle" textLength="4.00" lengthAdjust="spacingAndGlyphs">0</text>
<text x="466.45" y="647.70" font-size="7.8" text-anchor="middle" textLength="10.01" lengthAdjust="spacingAndGlyphs">0.5</text>
<text x="508.20" y="647.70" font-size="7.8" text-anchor="middle" textLength="4.00" lengthAdjust="spacingAndGlyphs">1</text>
<line x1="425.70" y1="578.50" x2="512.10" y2="578.50" stroke="#222" stroke-width="0.9" stroke-dasharray="0.9 0.9"/>
<circle cx="483.10" cy="634.30" r="1.35" fill="#c8102e"/>
<circle cx="487.80" cy="632.30" r="1.35" fill="#c8102e"/>
<circle cx="487.80" cy="634.30" r="1.35" fill="#c8102e"/>
<circle cx="493.50" cy="635.00" r="1.35" fill="#c8102e"/>
<circle cx="495.00" cy="635.20" r="1.35" fill="#c8102e"/>
<circle cx="496.50" cy="635.30" r="1.35" fill="#c8102e"/>
<circle cx="497.50" cy="635.40" r="1.35" fill="#c8102e"/>
<text x="384.60" y="660.90" font-size="9.4" textLength="51.80" lengthAdjust="spacingAndGlyphs">Fractional effect</text>
<rect x="0" y="0" width="520" height="1.15" fill="#000"/>
<rect x="0" y="666.75" width="520" height="1.25" fill="#000"/>
<rect x="0" y="0" width="1.2" height="668" fill="#000"/>
<rect x="518.8" y="0" width="1.2" height="668" fill="#000"/>
</svg>
</body></html>
